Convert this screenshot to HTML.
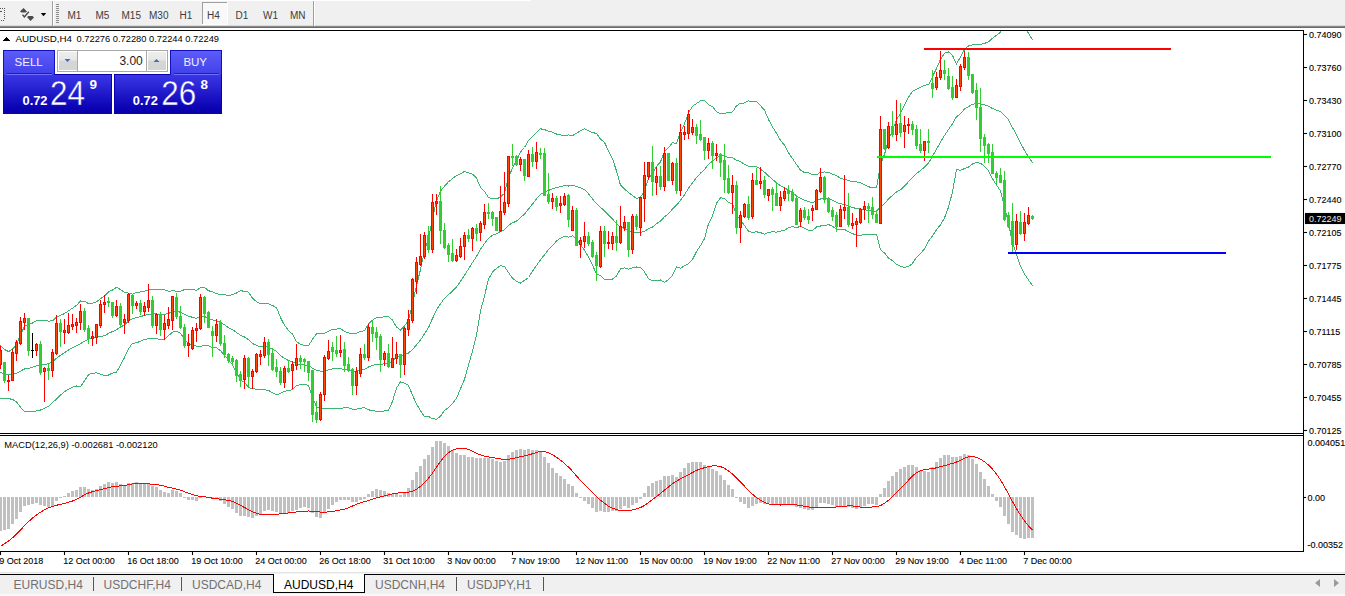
<!DOCTYPE html>
<html><head><meta charset="utf-8"><style>
html,body{margin:0;padding:0;width:1345px;height:596px;overflow:hidden;background:#fff;font-family:"Liberation Sans", sans-serif;}
.abs{position:absolute;}
#tb{left:0;top:0;width:1345px;height:26px;background:#f0f0f0;}
#tbline{left:0;top:25px;width:1345px;height:3px;background:linear-gradient(#c8c8c8,#6a6a6a 50%,#a8a8a8);}
.tf{position:absolute;top:8px;font-size:10px;color:#333;line-height:14px;}
#tabs{left:0;top:574px;width:1345px;height:22px;background:#f0f0f0;}
.tab{position:absolute;top:577px;font-size:12px;color:#707070;line-height:15px;}
.sep{position:absolute;top:577px;width:1px;height:15px;background:#555;}
</style></head><body>
<div id="tb" class="abs"></div>
<div class="abs" style="left:0;top:0;width:531px;height:1px;background:#fff"></div>
<div class="abs" style="left:0;top:25px;width:1345px;height:1px;background:#d8d8d8"></div>
<div class="abs" style="left:0;top:26px;width:1345px;height:1px;background:#8a8a8a"></div>
<div class="abs" style="left:0;top:27px;width:1345px;height:1px;background:#6a6a6a"></div>
<svg class="abs" style="left:0;top:0" width="320" height="26" shape-rendering="crispEdges">
<g fill="#555">
<rect x="0" y="8" width="1" height="1"/><rect x="2" y="8" width="1" height="1"/><rect x="4" y="8" width="1" height="1"/>
<rect x="4" y="10" width="1" height="1"/><rect x="4" y="12" width="1" height="1"/><rect x="4" y="14" width="1" height="1"/><rect x="4" y="16" width="1" height="1"/><rect x="4" y="18" width="1" height="1"/>
<rect x="1" y="20" width="1" height="1"/><rect x="3" y="20" width="1" height="1"/>
<rect x="0" y="11" width="2" height="1"/>
</g>
<g fill="#4a4a4a" shape-rendering="auto">
<path d="M20,11.5 L23.5,8 L27,11.5 L25.5,12.5 L21.5,12.5 Z"/>
<path d="M27,17 L28.5,16 L32.5,16 L34,17.5 L30.5,21 Z"/>
<path d="M22,15.3 L23,14.3 L24.4,15.8 L28.3,11.3 L29.3,12.3 L24.4,18 Z"/>
</g>
<path d="M40.8,13 L46.2,13 L43.5,16.2 Z" fill="#000" shape-rendering="auto"/>
<rect x="52" y="1" width="1" height="25" fill="#a0a0a0"/>
<rect x="53" y="1" width="1" height="25" fill="#ffffff"/>
<g fill="#8c8c8c">
<rect x="56" y="4" width="3" height="1"/><rect x="56" y="6" width="3" height="1"/><rect x="56" y="8" width="3" height="1"/><rect x="56" y="10" width="3" height="1"/><rect x="56" y="12" width="3" height="1"/><rect x="56" y="14" width="3" height="1"/><rect x="56" y="16" width="3" height="1"/><rect x="56" y="18" width="3" height="1"/><rect x="56" y="20" width="3" height="1"/><rect x="56" y="22" width="3" height="1"/>
</g>
<rect x="202" y="2" width="25" height="22" fill="#f9f9f9"/>
<rect x="202" y="2" width="25" height="1" fill="#a0a0a0"/>
<rect x="202" y="2" width="1" height="22" fill="#a0a0a0"/>
<rect x="202" y="24" width="26" height="1" fill="#ffffff"/>
<rect x="227" y="2" width="1" height="23" fill="#ffffff"/>
<rect x="313" y="1" width="1" height="25" fill="#a0a0a0"/>
<rect x="314" y="1" width="1" height="25" fill="#ffffff"/>
<g font-family='"Liberation Sans", sans-serif' font-size="10" fill="#3c3c3c" shape-rendering="auto">
<text x="67.5" y="18.5">M1</text>
<text x="95.5" y="18.5">M5</text>
<text x="121.5" y="18.5">M15</text>
<text x="149" y="18.5">M30</text>
<text x="179.5" y="18.5">H1</text>
<text x="207" y="18.5">H4</text>
<text x="235.5" y="18.5">D1</text>
<text x="263" y="18.5">W1</text>
<text x="290" y="18.5">MN</text>
</g>
</svg>

<svg width="1345" height="596" style="position:absolute;left:0;top:0" shape-rendering="crispEdges" font-family='"Liberation Sans", sans-serif' font-size="9">
<rect x="0" y="30" width="1304" height="1" fill="#000"/>
<rect x="1303" y="30" width="1" height="406" fill="#000"/>
<rect x="0" y="433" width="1304" height="1" fill="#000"/>
<rect x="0" y="435" width="1304" height="1" fill="#000"/>
<rect x="1303" y="435" width="1" height="117" fill="#000"/>
<rect x="0" y="551" width="1304" height="1" fill="#000"/>
<defs><clipPath id="cp"><rect x="0" y="31" width="1303" height="402"/></clipPath><clipPath id="cm"><rect x="0" y="436" width="1303" height="115"/></clipPath></defs>
<g clip-path="url(#cp)"><polyline points="0.5,345.5 4.5,349.5 8.5,351.5 12.5,349.3 16.5,344.5 20.5,334.8 24.5,326.2 28.5,324.8 32.5,323.1 36.5,320.7 40.5,320.7 44.5,320.7 48.5,321.1 52.5,320.9 56.5,317.1 60.5,315.3 64.5,313.6 68.5,310.8 72.5,308.2 76.5,305.4 80.5,300.9 84.5,301.4 88.5,303.5 92.5,303.3 96.5,301.9 100.5,298.8 104.5,296.0 108.5,291.8 112.5,290.1 116.5,287.3 120.5,289.6 124.5,292.2 128.5,293.2 132.5,294.1 136.5,292.3 140.5,292.0 144.5,291.3 148.5,289.7 152.5,289.6 156.5,289.5 160.5,289.5 164.5,289.8 168.5,291.3 172.5,290.8 176.5,291.2 180.5,291.3 184.5,289.6 188.5,289.2 192.5,289.3 196.5,290.4 200.5,287.7 204.5,287.4 208.5,290.7 212.5,291.9 216.5,293.9 220.5,294.2 224.5,294.3 228.5,295.8 232.5,294.4 236.5,293.0 240.5,290.5 244.5,291.5 248.5,292.1 252.5,298.2 256.5,301.6 260.5,303.6 264.5,303.4 268.5,303.9 272.5,305.5 276.5,307.6 280.5,317.6 284.5,325.3 288.5,330.4 292.5,334.1 296.5,341.6 300.5,344.5 304.5,345.4 308.5,345.8 312.5,339.3 316.5,333.9 320.5,333.3 324.5,333.2 328.5,331.1 332.5,329.3 336.5,329.1 340.5,328.6 344.5,331.5 348.5,333.0 352.5,333.2 356.5,333.2 360.5,331.5 364.5,330.6 368.5,324.2 372.5,320.2 376.5,317.6 380.5,317.4 384.5,316.8 388.5,316.6 392.5,320.1 396.5,326.9 400.5,330.2 404.5,326.0 408.5,320.5 412.5,303.8 416.5,285.6 420.5,269.5 424.5,250.7 428.5,238.7 432.5,218.3 436.5,200.7 440.5,191.3 444.5,186.1 448.5,181.7 452.5,178.6 456.5,175.6 460.5,173.8 464.5,171.5 468.5,172.8 472.5,174.2 476.5,178.1 480.5,187.5 484.5,191.4 488.5,197.7 492.5,198.5 496.5,199.0 500.5,197.1 504.5,193.3 508.5,177.8 512.5,167.8 516.5,161.1 520.5,152.0 524.5,147.5 528.5,140.4 532.5,136.8 536.5,132.4 540.5,128.8 544.5,129.6 548.5,131.3 552.5,132.2 556.5,134.0 560.5,135.0 564.5,135.4 568.5,135.0 572.5,135.5 576.5,133.3 580.5,130.6 584.5,128.8 588.5,130.8 592.5,132.5 596.5,133.5 600.5,139.2 604.5,142.5 608.5,150.7 612.5,158.8 616.5,171.0 620.5,185.2 624.5,189.0 628.5,192.4 632.5,195.6 636.5,198.4 640.5,197.1 644.5,191.0 648.5,178.4 652.5,173.4 656.5,166.3 660.5,161.9 664.5,151.4 668.5,147.6 672.5,142.6 676.5,143.6 680.5,132.3 684.5,123.8 688.5,112.8 692.5,106.3 696.5,103.5 700.5,100.9 704.5,100.3 708.5,104.7 712.5,106.6 716.5,111.9 720.5,113.8 724.5,113.6 728.5,112.3 732.5,112.0 736.5,105.8 740.5,103.1 744.5,103.0 748.5,100.9 752.5,101.5 756.5,101.5 760.5,105.6 764.5,110.2 768.5,119.5 772.5,126.9 776.5,133.4 780.5,140.2 784.5,145.2 788.5,152.8 792.5,158.5 796.5,164.4 800.5,170.3 804.5,172.5 808.5,172.9 812.5,174.9 816.5,175.0 820.5,172.1 824.5,172.0 828.5,172.4 832.5,174.4 836.5,175.4 840.5,178.4 844.5,179.3 848.5,180.6 852.5,181.6 856.5,181.8 860.5,182.9 864.5,184.8 868.5,186.7 872.5,187.9 876.5,187.9 880.5,164.5 884.5,154.3 888.5,140.0 892.5,130.1 896.5,119.8 900.5,113.2 904.5,104.8 908.5,97.1 912.5,91.4 916.5,89.3 920.5,87.5 924.5,85.1 928.5,84.8 932.5,76.7 936.5,68.4 940.5,59.5 944.5,53.1 948.5,51.9 952.5,55.5 956.5,64.1 960.5,56.8 964.5,49.6 968.5,45.9 972.5,44.9 976.5,44.8 980.5,44.4 984.5,43.4 988.5,41.8 992.5,38.2 996.5,35.2 1000.5,32.3 1004.5,24.0 1008.5,16.7 1012.5,12.3 1016.5,15.0 1020.5,19.6 1024.5,26.8 1028.5,33.4 1032.5,39.8" fill="none" stroke="#3cb371" stroke-width="1"/><polyline points="0.5,372.3 4.5,373.9 8.5,375.0 12.5,374.4 16.5,373.1 20.5,371.1 24.5,369.0 28.5,368.3 32.5,367.3 36.5,365.8 40.5,365.3 44.5,364.5 48.5,363.6 52.5,361.7 56.5,358.2 60.5,355.3 64.5,352.6 68.5,350.0 72.5,347.7 76.5,345.7 80.5,343.7 84.5,341.2 88.5,339.1 92.5,338.3 96.5,337.4 100.5,336.5 104.5,335.8 108.5,333.4 112.5,331.6 116.5,329.7 120.5,327.3 124.5,324.9 128.5,321.0 132.5,318.7 136.5,317.6 140.5,316.6 144.5,315.4 148.5,314.2 152.5,314.2 156.5,313.8 160.5,314.7 164.5,314.4 168.5,313.5 172.5,311.5 176.5,311.1 180.5,312.3 184.5,314.4 188.5,316.4 192.5,317.2 196.5,318.3 200.5,316.9 204.5,316.6 208.5,318.3 212.5,319.8 216.5,320.8 220.5,322.4 224.5,324.8 228.5,327.8 232.5,329.6 236.5,332.6 240.5,335.2 244.5,336.9 248.5,339.8 252.5,343.5 256.5,345.4 260.5,346.7 264.5,346.6 268.5,347.1 272.5,349.1 276.5,351.3 280.5,355.5 284.5,358.3 288.5,360.5 292.5,362.0 296.5,363.7 300.5,364.6 304.5,364.9 308.5,365.5 312.5,368.2 316.5,370.4 320.5,371.1 324.5,371.0 328.5,369.8 332.5,368.8 336.5,368.7 340.5,368.5 344.5,369.6 348.5,370.4 352.5,371.2 356.5,371.2 360.5,369.8 364.5,369.2 368.5,367.0 372.5,365.4 376.5,364.4 380.5,364.3 384.5,363.9 388.5,363.6 392.5,360.8 396.5,357.5 400.5,356.1 404.5,354.6 408.5,353.0 412.5,349.4 416.5,344.9 420.5,340.1 424.5,333.7 428.5,327.6 432.5,318.5 436.5,310.0 440.5,303.8 444.5,298.3 448.5,294.7 452.5,291.0 456.5,286.9 460.5,281.3 464.5,275.4 468.5,269.0 472.5,262.5 476.5,256.5 480.5,249.4 484.5,243.6 488.5,238.3 492.5,235.3 496.5,233.7 500.5,231.5 504.5,229.8 508.5,225.2 512.5,222.9 516.5,221.1 520.5,217.6 524.5,214.0 528.5,209.0 532.5,204.0 536.5,198.9 540.5,194.2 544.5,192.3 548.5,190.4 552.5,188.9 556.5,187.6 560.5,186.5 564.5,185.7 568.5,186.0 572.5,185.6 576.5,186.3 580.5,187.8 584.5,189.5 588.5,193.8 592.5,198.8 596.5,203.8 600.5,207.4 604.5,210.8 608.5,215.2 612.5,219.0 616.5,223.5 620.5,227.1 624.5,228.4 628.5,230.8 632.5,231.7 636.5,232.7 640.5,232.4 644.5,231.4 648.5,228.6 652.5,227.1 656.5,223.7 660.5,220.9 664.5,216.8 668.5,213.6 672.5,209.0 676.5,205.2 680.5,200.3 684.5,194.7 688.5,188.3 692.5,182.9 696.5,177.5 700.5,173.2 704.5,169.6 708.5,164.3 712.5,161.2 716.5,157.6 720.5,155.8 724.5,156.0 728.5,157.5 732.5,157.7 736.5,160.2 740.5,161.7 744.5,164.2 748.5,166.1 752.5,167.0 756.5,166.6 760.5,169.1 764.5,172.2 768.5,175.9 772.5,179.3 776.5,182.8 780.5,185.7 784.5,187.7 788.5,190.2 792.5,192.5 796.5,196.0 800.5,198.4 804.5,200.3 808.5,201.6 812.5,202.8 816.5,200.9 820.5,199.0 824.5,198.8 828.5,198.5 832.5,200.3 836.5,202.4 840.5,203.8 844.5,204.4 848.5,206.2 852.5,207.6 856.5,208.4 860.5,209.0 864.5,209.8 868.5,210.5 872.5,211.2 876.5,211.2 880.5,207.1 884.5,203.7 888.5,199.0 892.5,195.3 896.5,192.0 900.5,189.8 904.5,186.1 908.5,181.7 912.5,177.4 916.5,173.4 920.5,170.4 924.5,167.1 928.5,163.0 932.5,156.3 936.5,149.1 940.5,142.1 944.5,135.5 948.5,129.5 952.5,123.7 956.5,116.8 960.5,113.6 964.5,109.1 968.5,106.5 972.5,104.4 976.5,103.6 980.5,103.9 984.5,104.8 988.5,106.3 992.5,108.5 996.5,110.1 1000.5,111.7 1004.5,115.6 1008.5,119.8 1012.5,127.6 1016.5,134.8 1020.5,142.9 1024.5,150.4 1028.5,156.7 1032.5,162.8" fill="none" stroke="#3cb371" stroke-width="1"/><polyline points="0.5,399.0 4.5,398.3 8.5,398.5 12.5,399.5 16.5,401.7 20.5,407.3 24.5,411.8 28.5,411.8 32.5,411.5 36.5,410.9 40.5,410.0 44.5,408.3 48.5,406.2 52.5,402.5 56.5,399.2 60.5,395.2 64.5,391.6 68.5,389.2 72.5,387.3 76.5,386.0 80.5,386.6 84.5,380.9 88.5,374.6 92.5,373.3 96.5,372.8 100.5,374.2 104.5,375.5 108.5,375.0 112.5,373.1 116.5,372.2 120.5,365.0 124.5,357.5 128.5,348.8 132.5,343.2 136.5,342.9 140.5,341.2 144.5,339.5 148.5,338.7 152.5,338.9 156.5,338.2 160.5,339.9 164.5,339.1 168.5,335.7 172.5,332.2 176.5,331.1 180.5,333.2 184.5,339.2 188.5,343.7 192.5,345.1 196.5,346.2 200.5,346.1 204.5,345.8 208.5,345.9 212.5,347.7 216.5,347.8 220.5,350.7 224.5,355.3 228.5,359.8 232.5,364.8 236.5,372.3 240.5,379.8 244.5,382.4 248.5,387.5 252.5,388.8 256.5,389.2 260.5,389.9 264.5,389.8 268.5,390.4 272.5,392.7 276.5,394.9 280.5,393.5 284.5,391.2 288.5,390.6 292.5,389.8 296.5,385.7 300.5,384.6 304.5,384.5 308.5,385.2 312.5,397.1 316.5,406.9 320.5,408.8 324.5,408.8 328.5,408.5 332.5,408.2 336.5,408.3 340.5,408.4 344.5,407.8 348.5,407.9 352.5,409.2 356.5,409.2 360.5,408.1 364.5,407.9 368.5,409.8 372.5,410.7 376.5,411.2 380.5,411.1 384.5,411.0 388.5,410.5 392.5,401.5 396.5,388.1 400.5,381.9 404.5,383.2 408.5,385.5 412.5,395.0 416.5,404.1 420.5,410.8 424.5,416.7 428.5,416.5 432.5,418.7 436.5,419.3 440.5,416.3 444.5,410.5 448.5,407.6 452.5,403.5 456.5,398.3 460.5,388.8 464.5,379.3 468.5,365.2 472.5,350.9 476.5,334.8 480.5,311.3 484.5,295.9 488.5,279.0 492.5,272.1 496.5,268.3 500.5,265.8 504.5,266.3 508.5,272.6 512.5,278.1 516.5,281.2 520.5,283.1 524.5,280.4 528.5,277.5 532.5,271.3 536.5,265.4 540.5,259.7 544.5,254.9 548.5,249.6 552.5,245.7 556.5,241.1 560.5,238.1 564.5,236.1 568.5,237.1 572.5,235.8 576.5,239.4 580.5,245.0 584.5,250.2 588.5,256.9 592.5,265.1 596.5,274.1 600.5,275.6 604.5,279.2 608.5,279.7 612.5,279.1 616.5,276.0 620.5,268.9 624.5,267.8 628.5,269.2 632.5,267.8 636.5,267.0 640.5,267.7 644.5,271.8 648.5,278.7 652.5,280.8 656.5,281.0 660.5,280.0 664.5,282.2 668.5,279.7 672.5,275.4 676.5,266.9 680.5,268.3 684.5,265.7 688.5,263.8 692.5,259.4 696.5,251.6 700.5,245.5 704.5,238.8 708.5,223.8 712.5,215.8 716.5,203.3 720.5,197.8 724.5,198.4 728.5,202.7 732.5,203.4 736.5,214.7 740.5,220.3 744.5,225.5 748.5,231.3 752.5,232.5 756.5,231.8 760.5,232.6 764.5,234.2 768.5,232.4 772.5,231.7 776.5,232.2 780.5,231.2 784.5,230.3 788.5,227.6 792.5,226.5 796.5,227.6 800.5,226.4 804.5,228.1 808.5,230.4 812.5,230.7 816.5,226.9 820.5,226.0 824.5,225.6 828.5,224.6 832.5,226.2 836.5,229.4 840.5,229.2 844.5,229.5 848.5,231.7 852.5,233.6 856.5,235.1 860.5,235.2 864.5,234.7 868.5,234.3 872.5,234.6 876.5,234.4 880.5,249.7 884.5,253.0 888.5,258.1 892.5,260.6 896.5,264.2 900.5,266.3 904.5,267.4 908.5,266.4 912.5,263.4 916.5,257.4 920.5,253.3 924.5,249.1 928.5,241.3 932.5,235.8 936.5,229.7 940.5,224.8 944.5,217.8 948.5,207.1 952.5,191.8 956.5,169.5 960.5,170.4 964.5,168.5 968.5,167.1 972.5,163.9 976.5,162.4 980.5,163.3 984.5,166.3 988.5,170.8 992.5,178.8 996.5,185.0 1000.5,191.1 1004.5,207.1 1008.5,222.9 1012.5,242.9 1016.5,254.6 1020.5,266.2 1024.5,274.0 1028.5,280.0 1032.5,285.8" fill="none" stroke="#3cb371" stroke-width="1"/><rect x="0" y="346" width="1" height="23" fill="#ff0000"/><rect x="-1" y="350" width="3" height="15" fill="#ff0000"/><rect x="0" y="351" width="1" height="13" fill="#ff4500"/><rect x="4" y="362" width="1" height="21" fill="#32cd32"/><rect x="3" y="362" width="3" height="19" fill="#32cd32"/><rect x="8" y="375" width="1" height="16" fill="#ff0000"/><rect x="7" y="380" width="3" height="2" fill="#ff0000"/><rect x="12" y="349" width="1" height="32" fill="#ff0000"/><rect x="11" y="352" width="3" height="29" fill="#ff0000"/><rect x="12" y="353" width="1" height="27" fill="#ff4500"/><rect x="16" y="340" width="1" height="21" fill="#ff0000"/><rect x="15" y="342" width="3" height="12" fill="#ff0000"/><rect x="16" y="343" width="1" height="10" fill="#ff4500"/><rect x="20" y="317" width="1" height="28" fill="#ff0000"/><rect x="19" y="321" width="3" height="23" fill="#ff0000"/><rect x="20" y="322" width="1" height="21" fill="#ff4500"/><rect x="24" y="313" width="1" height="17" fill="#ff0000"/><rect x="23" y="318" width="3" height="5" fill="#ff0000"/><rect x="24" y="319" width="1" height="3" fill="#ff4500"/><rect x="28" y="318" width="1" height="38" fill="#32cd32"/><rect x="27" y="318" width="3" height="33" fill="#32cd32"/><rect x="32" y="333" width="1" height="25" fill="#000000"/><rect x="31" y="350" width="3" height="1" fill="#000000"/><rect x="36" y="343" width="1" height="13" fill="#ff0000"/><rect x="35" y="344" width="3" height="7" fill="#ff0000"/><rect x="36" y="345" width="1" height="5" fill="#ff4500"/><rect x="40" y="341" width="1" height="34" fill="#32cd32"/><rect x="39" y="344" width="3" height="29" fill="#32cd32"/><rect x="44" y="367" width="1" height="35" fill="#ff0000"/><rect x="43" y="368" width="3" height="4" fill="#ff0000"/><rect x="44" y="369" width="1" height="2" fill="#ff4500"/><rect x="48" y="363" width="1" height="17" fill="#32cd32"/><rect x="47" y="368" width="3" height="3" fill="#32cd32"/><rect x="52" y="349" width="1" height="28" fill="#ff0000"/><rect x="51" y="352" width="3" height="19" fill="#ff0000"/><rect x="52" y="353" width="1" height="17" fill="#ff4500"/><rect x="56" y="315" width="1" height="40" fill="#ff0000"/><rect x="55" y="323" width="3" height="31" fill="#ff0000"/><rect x="56" y="324" width="1" height="29" fill="#ff4500"/><rect x="60" y="319" width="1" height="28" fill="#32cd32"/><rect x="59" y="323" width="3" height="9" fill="#32cd32"/><rect x="64" y="319" width="1" height="25" fill="#ff0000"/><rect x="63" y="330" width="3" height="3" fill="#ff0000"/><rect x="64" y="331" width="1" height="1" fill="#ff4500"/><rect x="68" y="313" width="1" height="21" fill="#ff0000"/><rect x="67" y="325" width="3" height="8" fill="#ff0000"/><rect x="68" y="326" width="1" height="6" fill="#ff4500"/><rect x="72" y="314" width="1" height="16" fill="#ff0000"/><rect x="71" y="324" width="3" height="3" fill="#ff0000"/><rect x="72" y="325" width="1" height="1" fill="#ff4500"/><rect x="76" y="318" width="1" height="15" fill="#ff0000"/><rect x="75" y="322" width="3" height="4" fill="#ff0000"/><rect x="76" y="323" width="1" height="2" fill="#ff4500"/><rect x="80" y="304" width="1" height="26" fill="#ff0000"/><rect x="79" y="311" width="3" height="12" fill="#ff0000"/><rect x="80" y="312" width="1" height="10" fill="#ff4500"/><rect x="84" y="308" width="1" height="24" fill="#32cd32"/><rect x="83" y="311" width="3" height="19" fill="#32cd32"/><rect x="88" y="325" width="1" height="19" fill="#32cd32"/><rect x="87" y="328" width="3" height="11" fill="#32cd32"/><rect x="92" y="331" width="1" height="15" fill="#ff0000"/><rect x="91" y="336" width="3" height="3" fill="#ff0000"/><rect x="92" y="337" width="1" height="1" fill="#ff4500"/><rect x="96" y="324" width="1" height="20" fill="#ff0000"/><rect x="95" y="324" width="3" height="14" fill="#ff0000"/><rect x="96" y="325" width="1" height="12" fill="#ff4500"/><rect x="100" y="300" width="1" height="28" fill="#ff0000"/><rect x="99" y="304" width="3" height="22" fill="#ff0000"/><rect x="100" y="305" width="1" height="20" fill="#ff4500"/><rect x="104" y="295" width="1" height="18" fill="#ff0000"/><rect x="103" y="302" width="3" height="3" fill="#ff0000"/><rect x="104" y="303" width="1" height="1" fill="#ff4500"/><rect x="108" y="297" width="1" height="10" fill="#32cd32"/><rect x="107" y="301" width="3" height="2" fill="#32cd32"/><rect x="112" y="302" width="1" height="16" fill="#32cd32"/><rect x="111" y="302" width="3" height="14" fill="#32cd32"/><rect x="116" y="300" width="1" height="17" fill="#ff0000"/><rect x="115" y="306" width="3" height="10" fill="#ff0000"/><rect x="116" y="307" width="1" height="8" fill="#ff4500"/><rect x="120" y="303" width="1" height="24" fill="#32cd32"/><rect x="119" y="306" width="3" height="19" fill="#32cd32"/><rect x="124" y="314" width="1" height="20" fill="#ff0000"/><rect x="123" y="319" width="3" height="4" fill="#ff0000"/><rect x="124" y="320" width="1" height="2" fill="#ff4500"/><rect x="128" y="293" width="1" height="30" fill="#ff0000"/><rect x="127" y="294" width="3" height="27" fill="#ff0000"/><rect x="128" y="295" width="1" height="25" fill="#ff4500"/><rect x="132" y="294" width="1" height="20" fill="#32cd32"/><rect x="131" y="295" width="3" height="11" fill="#32cd32"/><rect x="136" y="301" width="1" height="8" fill="#ff0000"/><rect x="135" y="303" width="3" height="3" fill="#ff0000"/><rect x="136" y="304" width="1" height="1" fill="#ff4500"/><rect x="140" y="300" width="1" height="15" fill="#32cd32"/><rect x="139" y="303" width="3" height="9" fill="#32cd32"/><rect x="144" y="302" width="1" height="14" fill="#ff0000"/><rect x="143" y="306" width="3" height="6" fill="#ff0000"/><rect x="144" y="307" width="1" height="4" fill="#ff4500"/><rect x="148" y="284" width="1" height="28" fill="#ff0000"/><rect x="147" y="300" width="3" height="8" fill="#ff0000"/><rect x="148" y="301" width="1" height="6" fill="#ff4500"/><rect x="152" y="296" width="1" height="32" fill="#32cd32"/><rect x="151" y="300" width="3" height="26" fill="#32cd32"/><rect x="156" y="313" width="1" height="21" fill="#ff0000"/><rect x="155" y="314" width="3" height="12" fill="#ff0000"/><rect x="156" y="315" width="1" height="10" fill="#ff4500"/><rect x="160" y="312" width="1" height="24" fill="#32cd32"/><rect x="159" y="314" width="3" height="16" fill="#32cd32"/><rect x="164" y="315" width="1" height="25" fill="#ff0000"/><rect x="163" y="323" width="3" height="7" fill="#ff0000"/><rect x="164" y="324" width="1" height="5" fill="#ff4500"/><rect x="168" y="307" width="1" height="22" fill="#ff0000"/><rect x="167" y="319" width="3" height="7" fill="#ff0000"/><rect x="168" y="320" width="1" height="5" fill="#ff4500"/><rect x="172" y="296" width="1" height="34" fill="#ff0000"/><rect x="171" y="296" width="3" height="25" fill="#ff0000"/><rect x="172" y="297" width="1" height="23" fill="#ff4500"/><rect x="176" y="293" width="1" height="26" fill="#32cd32"/><rect x="175" y="297" width="3" height="20" fill="#32cd32"/><rect x="180" y="306" width="1" height="23" fill="#32cd32"/><rect x="179" y="316" width="3" height="12" fill="#32cd32"/><rect x="184" y="324" width="1" height="24" fill="#32cd32"/><rect x="183" y="327" width="3" height="19" fill="#32cd32"/><rect x="188" y="334" width="1" height="23" fill="#ff0000"/><rect x="187" y="343" width="3" height="3" fill="#ff0000"/><rect x="188" y="344" width="1" height="1" fill="#ff4500"/><rect x="192" y="327" width="1" height="23" fill="#ff0000"/><rect x="191" y="330" width="3" height="19" fill="#ff0000"/><rect x="192" y="331" width="1" height="17" fill="#ff4500"/><rect x="196" y="323" width="1" height="19" fill="#ff0000"/><rect x="195" y="328" width="3" height="3" fill="#ff0000"/><rect x="196" y="329" width="1" height="1" fill="#ff4500"/><rect x="200" y="294" width="1" height="36" fill="#ff0000"/><rect x="199" y="297" width="3" height="32" fill="#ff0000"/><rect x="200" y="298" width="1" height="30" fill="#ff4500"/><rect x="204" y="296" width="1" height="27" fill="#32cd32"/><rect x="203" y="297" width="3" height="17" fill="#32cd32"/><rect x="208" y="311" width="1" height="17" fill="#32cd32"/><rect x="207" y="312" width="3" height="16" fill="#32cd32"/><rect x="212" y="326" width="1" height="31" fill="#32cd32"/><rect x="211" y="331" width="3" height="5" fill="#32cd32"/><rect x="216" y="319" width="1" height="23" fill="#ff0000"/><rect x="215" y="324" width="3" height="12" fill="#ff0000"/><rect x="216" y="325" width="1" height="10" fill="#ff4500"/><rect x="220" y="320" width="1" height="26" fill="#32cd32"/><rect x="219" y="323" width="3" height="21" fill="#32cd32"/><rect x="224" y="335" width="1" height="23" fill="#32cd32"/><rect x="223" y="343" width="3" height="12" fill="#32cd32"/><rect x="228" y="353" width="1" height="10" fill="#32cd32"/><rect x="227" y="354" width="3" height="7" fill="#32cd32"/><rect x="232" y="356" width="1" height="10" fill="#32cd32"/><rect x="231" y="358" width="3" height="4" fill="#32cd32"/><rect x="236" y="359" width="1" height="23" fill="#32cd32"/><rect x="235" y="360" width="3" height="16" fill="#32cd32"/><rect x="240" y="371" width="1" height="16" fill="#32cd32"/><rect x="239" y="374" width="3" height="7" fill="#32cd32"/><rect x="244" y="355" width="1" height="34" fill="#ff0000"/><rect x="243" y="358" width="3" height="22" fill="#ff0000"/><rect x="244" y="359" width="1" height="20" fill="#ff4500"/><rect x="248" y="357" width="1" height="30" fill="#32cd32"/><rect x="247" y="358" width="3" height="19" fill="#32cd32"/><rect x="252" y="369" width="1" height="20" fill="#ff0000"/><rect x="251" y="371" width="3" height="6" fill="#ff0000"/><rect x="252" y="372" width="1" height="4" fill="#ff4500"/><rect x="256" y="353" width="1" height="20" fill="#ff0000"/><rect x="255" y="354" width="3" height="18" fill="#ff0000"/><rect x="256" y="355" width="1" height="16" fill="#ff4500"/><rect x="260" y="350" width="1" height="15" fill="#ff0000"/><rect x="259" y="354" width="3" height="3" fill="#ff0000"/><rect x="260" y="355" width="1" height="1" fill="#ff4500"/><rect x="264" y="337" width="1" height="21" fill="#ff0000"/><rect x="263" y="342" width="3" height="14" fill="#ff0000"/><rect x="264" y="343" width="1" height="12" fill="#ff4500"/><rect x="268" y="339" width="1" height="27" fill="#32cd32"/><rect x="267" y="342" width="3" height="13" fill="#32cd32"/><rect x="272" y="348" width="1" height="23" fill="#32cd32"/><rect x="271" y="353" width="3" height="17" fill="#32cd32"/><rect x="276" y="359" width="1" height="18" fill="#32cd32"/><rect x="275" y="367" width="3" height="5" fill="#32cd32"/><rect x="280" y="367" width="1" height="18" fill="#32cd32"/><rect x="279" y="371" width="3" height="12" fill="#32cd32"/><rect x="284" y="366" width="1" height="22" fill="#ff0000"/><rect x="283" y="368" width="3" height="15" fill="#ff0000"/><rect x="284" y="369" width="1" height="13" fill="#ff4500"/><rect x="288" y="360" width="1" height="13" fill="#32cd32"/><rect x="287" y="368" width="3" height="4" fill="#32cd32"/><rect x="292" y="361" width="1" height="28" fill="#ff0000"/><rect x="291" y="364" width="3" height="7" fill="#ff0000"/><rect x="292" y="365" width="1" height="5" fill="#ff4500"/><rect x="296" y="344" width="1" height="26" fill="#ff0000"/><rect x="295" y="358" width="3" height="8" fill="#ff0000"/><rect x="296" y="359" width="1" height="6" fill="#ff4500"/><rect x="300" y="355" width="1" height="14" fill="#32cd32"/><rect x="299" y="358" width="3" height="4" fill="#32cd32"/><rect x="304" y="358" width="1" height="14" fill="#32cd32"/><rect x="303" y="359" width="3" height="3" fill="#32cd32"/><rect x="308" y="361" width="1" height="20" fill="#32cd32"/><rect x="307" y="361" width="3" height="12" fill="#32cd32"/><rect x="312" y="370" width="1" height="52" fill="#32cd32"/><rect x="311" y="370" width="3" height="45" fill="#32cd32"/><rect x="316" y="401" width="1" height="22" fill="#32cd32"/><rect x="315" y="412" width="3" height="8" fill="#32cd32"/><rect x="320" y="392" width="1" height="29" fill="#ff0000"/><rect x="319" y="394" width="3" height="26" fill="#ff0000"/><rect x="320" y="395" width="1" height="24" fill="#ff4500"/><rect x="324" y="355" width="1" height="46" fill="#ff0000"/><rect x="323" y="357" width="3" height="38" fill="#ff0000"/><rect x="324" y="358" width="1" height="36" fill="#ff4500"/><rect x="328" y="340" width="1" height="20" fill="#ff0000"/><rect x="327" y="351" width="3" height="8" fill="#ff0000"/><rect x="328" y="352" width="1" height="6" fill="#ff4500"/><rect x="332" y="342" width="1" height="19" fill="#32cd32"/><rect x="331" y="347" width="3" height="5" fill="#32cd32"/><rect x="336" y="336" width="1" height="21" fill="#32cd32"/><rect x="335" y="350" width="3" height="4" fill="#32cd32"/><rect x="340" y="335" width="1" height="22" fill="#ff0000"/><rect x="339" y="350" width="3" height="3" fill="#ff0000"/><rect x="340" y="351" width="1" height="1" fill="#ff4500"/><rect x="344" y="342" width="1" height="30" fill="#32cd32"/><rect x="343" y="349" width="3" height="17" fill="#32cd32"/><rect x="348" y="357" width="1" height="15" fill="#32cd32"/><rect x="347" y="364" width="3" height="7" fill="#32cd32"/><rect x="352" y="368" width="1" height="27" fill="#32cd32"/><rect x="351" y="369" width="3" height="17" fill="#32cd32"/><rect x="356" y="367" width="1" height="28" fill="#ff0000"/><rect x="355" y="371" width="3" height="15" fill="#ff0000"/><rect x="356" y="372" width="1" height="13" fill="#ff4500"/><rect x="360" y="348" width="1" height="29" fill="#ff0000"/><rect x="359" y="354" width="3" height="20" fill="#ff0000"/><rect x="360" y="355" width="1" height="18" fill="#ff4500"/><rect x="364" y="344" width="1" height="16" fill="#32cd32"/><rect x="363" y="354" width="3" height="4" fill="#32cd32"/><rect x="368" y="324" width="1" height="37" fill="#ff0000"/><rect x="367" y="327" width="3" height="31" fill="#ff0000"/><rect x="368" y="328" width="1" height="29" fill="#ff4500"/><rect x="372" y="321" width="1" height="21" fill="#32cd32"/><rect x="371" y="327" width="3" height="7" fill="#32cd32"/><rect x="376" y="327" width="1" height="23" fill="#32cd32"/><rect x="375" y="332" width="3" height="6" fill="#32cd32"/><rect x="380" y="334" width="1" height="38" fill="#32cd32"/><rect x="379" y="336" width="3" height="24" fill="#32cd32"/><rect x="384" y="351" width="1" height="15" fill="#ff0000"/><rect x="383" y="353" width="3" height="7" fill="#ff0000"/><rect x="384" y="354" width="1" height="5" fill="#ff4500"/><rect x="388" y="344" width="1" height="24" fill="#32cd32"/><rect x="387" y="353" width="3" height="14" fill="#32cd32"/><rect x="392" y="337" width="1" height="31" fill="#ff0000"/><rect x="391" y="358" width="3" height="10" fill="#ff0000"/><rect x="392" y="359" width="1" height="8" fill="#ff4500"/><rect x="396" y="342" width="1" height="22" fill="#ff0000"/><rect x="395" y="354" width="3" height="5" fill="#ff0000"/><rect x="396" y="355" width="1" height="3" fill="#ff4500"/><rect x="400" y="354" width="1" height="24" fill="#32cd32"/><rect x="399" y="354" width="3" height="11" fill="#32cd32"/><rect x="404" y="327" width="1" height="48" fill="#ff0000"/><rect x="403" y="328" width="3" height="37" fill="#ff0000"/><rect x="404" y="329" width="1" height="35" fill="#ff4500"/><rect x="408" y="310" width="1" height="26" fill="#ff0000"/><rect x="407" y="319" width="3" height="11" fill="#ff0000"/><rect x="408" y="320" width="1" height="9" fill="#ff4500"/><rect x="412" y="278" width="1" height="45" fill="#ff0000"/><rect x="411" y="279" width="3" height="42" fill="#ff0000"/><rect x="412" y="280" width="1" height="40" fill="#ff4500"/><rect x="416" y="257" width="1" height="37" fill="#ff0000"/><rect x="415" y="262" width="3" height="20" fill="#ff0000"/><rect x="416" y="263" width="1" height="18" fill="#ff4500"/><rect x="420" y="234" width="1" height="32" fill="#ff0000"/><rect x="419" y="256" width="3" height="9" fill="#ff0000"/><rect x="420" y="257" width="1" height="7" fill="#ff4500"/><rect x="424" y="232" width="1" height="27" fill="#ff0000"/><rect x="423" y="235" width="3" height="22" fill="#ff0000"/><rect x="424" y="236" width="1" height="20" fill="#ff4500"/><rect x="428" y="226" width="1" height="27" fill="#32cd32"/><rect x="427" y="235" width="3" height="15" fill="#32cd32"/><rect x="432" y="194" width="1" height="59" fill="#ff0000"/><rect x="431" y="202" width="3" height="48" fill="#ff0000"/><rect x="432" y="203" width="1" height="46" fill="#ff4500"/><rect x="436" y="194" width="1" height="21" fill="#ff0000"/><rect x="435" y="201" width="3" height="3" fill="#ff0000"/><rect x="436" y="202" width="1" height="1" fill="#ff4500"/><rect x="440" y="186" width="1" height="58" fill="#32cd32"/><rect x="439" y="201" width="3" height="30" fill="#32cd32"/><rect x="444" y="223" width="1" height="26" fill="#32cd32"/><rect x="443" y="230" width="3" height="18" fill="#32cd32"/><rect x="448" y="243" width="1" height="19" fill="#32cd32"/><rect x="447" y="245" width="3" height="10" fill="#32cd32"/><rect x="452" y="239" width="1" height="23" fill="#32cd32"/><rect x="451" y="253" width="3" height="8" fill="#32cd32"/><rect x="456" y="249" width="1" height="13" fill="#ff0000"/><rect x="455" y="255" width="3" height="6" fill="#ff0000"/><rect x="456" y="256" width="1" height="4" fill="#ff4500"/><rect x="460" y="238" width="1" height="20" fill="#ff0000"/><rect x="459" y="246" width="3" height="11" fill="#ff0000"/><rect x="460" y="247" width="1" height="9" fill="#ff4500"/><rect x="464" y="232" width="1" height="28" fill="#ff0000"/><rect x="463" y="235" width="3" height="12" fill="#ff0000"/><rect x="464" y="236" width="1" height="10" fill="#ff4500"/><rect x="468" y="229" width="1" height="13" fill="#32cd32"/><rect x="467" y="235" width="3" height="4" fill="#32cd32"/><rect x="472" y="227" width="1" height="24" fill="#ff0000"/><rect x="471" y="228" width="3" height="11" fill="#ff0000"/><rect x="472" y="229" width="1" height="9" fill="#ff4500"/><rect x="476" y="224" width="1" height="17" fill="#32cd32"/><rect x="475" y="228" width="3" height="6" fill="#32cd32"/><rect x="480" y="221" width="1" height="20" fill="#ff0000"/><rect x="479" y="223" width="3" height="10" fill="#ff0000"/><rect x="480" y="224" width="1" height="8" fill="#ff4500"/><rect x="484" y="204" width="1" height="25" fill="#ff0000"/><rect x="483" y="212" width="3" height="13" fill="#ff0000"/><rect x="484" y="213" width="1" height="11" fill="#ff4500"/><rect x="488" y="203" width="1" height="16" fill="#32cd32"/><rect x="487" y="212" width="3" height="2" fill="#32cd32"/><rect x="492" y="211" width="1" height="15" fill="#32cd32"/><rect x="491" y="212" width="3" height="7" fill="#32cd32"/><rect x="496" y="217" width="1" height="14" fill="#32cd32"/><rect x="495" y="217" width="3" height="14" fill="#32cd32"/><rect x="500" y="186" width="1" height="46" fill="#ff0000"/><rect x="499" y="211" width="3" height="20" fill="#ff0000"/><rect x="500" y="212" width="1" height="18" fill="#ff4500"/><rect x="504" y="172" width="1" height="43" fill="#ff0000"/><rect x="503" y="202" width="3" height="11" fill="#ff0000"/><rect x="504" y="203" width="1" height="9" fill="#ff4500"/><rect x="508" y="156" width="1" height="51" fill="#ff0000"/><rect x="507" y="156" width="3" height="48" fill="#ff0000"/><rect x="508" y="157" width="1" height="46" fill="#ff4500"/><rect x="512" y="144" width="1" height="22" fill="#32cd32"/><rect x="511" y="156" width="3" height="2" fill="#32cd32"/><rect x="516" y="155" width="1" height="11" fill="#32cd32"/><rect x="515" y="156" width="3" height="9" fill="#32cd32"/><rect x="520" y="157" width="1" height="14" fill="#ff0000"/><rect x="519" y="159" width="3" height="6" fill="#ff0000"/><rect x="520" y="160" width="1" height="4" fill="#ff4500"/><rect x="524" y="159" width="1" height="22" fill="#32cd32"/><rect x="523" y="159" width="3" height="17" fill="#32cd32"/><rect x="528" y="150" width="1" height="27" fill="#ff0000"/><rect x="527" y="154" width="3" height="23" fill="#ff0000"/><rect x="528" y="155" width="1" height="21" fill="#ff4500"/><rect x="532" y="147" width="1" height="20" fill="#32cd32"/><rect x="531" y="154" width="3" height="8" fill="#32cd32"/><rect x="536" y="142" width="1" height="27" fill="#ff0000"/><rect x="535" y="152" width="3" height="10" fill="#ff0000"/><rect x="536" y="153" width="1" height="8" fill="#ff4500"/><rect x="540" y="148" width="1" height="11" fill="#32cd32"/><rect x="539" y="153" width="3" height="2" fill="#32cd32"/><rect x="544" y="148" width="1" height="48" fill="#32cd32"/><rect x="543" y="153" width="3" height="43" fill="#32cd32"/><rect x="548" y="173" width="1" height="31" fill="#32cd32"/><rect x="547" y="194" width="3" height="8" fill="#32cd32"/><rect x="552" y="193" width="1" height="16" fill="#ff0000"/><rect x="551" y="198" width="3" height="4" fill="#ff0000"/><rect x="552" y="199" width="1" height="2" fill="#ff4500"/><rect x="556" y="196" width="1" height="15" fill="#32cd32"/><rect x="555" y="198" width="3" height="9" fill="#32cd32"/><rect x="560" y="196" width="1" height="17" fill="#ff0000"/><rect x="559" y="203" width="3" height="3" fill="#ff0000"/><rect x="560" y="204" width="1" height="1" fill="#ff4500"/><rect x="564" y="193" width="1" height="13" fill="#ff0000"/><rect x="563" y="196" width="3" height="9" fill="#ff0000"/><rect x="564" y="197" width="1" height="7" fill="#ff4500"/><rect x="568" y="194" width="1" height="33" fill="#32cd32"/><rect x="567" y="195" width="3" height="25" fill="#32cd32"/><rect x="572" y="206" width="1" height="25" fill="#ff0000"/><rect x="571" y="210" width="3" height="21" fill="#ff0000"/><rect x="572" y="211" width="1" height="19" fill="#ff4500"/><rect x="576" y="208" width="1" height="38" fill="#32cd32"/><rect x="575" y="210" width="3" height="36" fill="#32cd32"/><rect x="580" y="237" width="1" height="21" fill="#ff0000"/><rect x="579" y="240" width="3" height="5" fill="#ff0000"/><rect x="580" y="241" width="1" height="3" fill="#ff4500"/><rect x="584" y="222" width="1" height="26" fill="#ff0000"/><rect x="583" y="236" width="3" height="6" fill="#ff0000"/><rect x="584" y="237" width="1" height="4" fill="#ff4500"/><rect x="588" y="232" width="1" height="14" fill="#32cd32"/><rect x="587" y="236" width="3" height="8" fill="#32cd32"/><rect x="592" y="240" width="1" height="18" fill="#32cd32"/><rect x="591" y="242" width="3" height="15" fill="#32cd32"/><rect x="596" y="252" width="1" height="29" fill="#32cd32"/><rect x="595" y="255" width="3" height="11" fill="#32cd32"/><rect x="600" y="226" width="1" height="42" fill="#ff0000"/><rect x="599" y="231" width="3" height="36" fill="#ff0000"/><rect x="600" y="232" width="1" height="34" fill="#ff4500"/><rect x="604" y="226" width="1" height="31" fill="#32cd32"/><rect x="603" y="231" width="3" height="13" fill="#32cd32"/><rect x="608" y="231" width="1" height="18" fill="#ff0000"/><rect x="607" y="242" width="3" height="2" fill="#ff0000"/><rect x="612" y="232" width="1" height="18" fill="#ff0000"/><rect x="611" y="236" width="3" height="8" fill="#ff0000"/><rect x="612" y="237" width="1" height="6" fill="#ff4500"/><rect x="616" y="220" width="1" height="31" fill="#32cd32"/><rect x="615" y="236" width="3" height="7" fill="#32cd32"/><rect x="620" y="206" width="1" height="38" fill="#ff0000"/><rect x="619" y="226" width="3" height="17" fill="#ff0000"/><rect x="620" y="227" width="1" height="15" fill="#ff4500"/><rect x="624" y="216" width="1" height="15" fill="#ff0000"/><rect x="623" y="222" width="3" height="6" fill="#ff0000"/><rect x="624" y="223" width="1" height="4" fill="#ff4500"/><rect x="628" y="222" width="1" height="35" fill="#32cd32"/><rect x="627" y="222" width="3" height="28" fill="#32cd32"/><rect x="632" y="214" width="1" height="40" fill="#ff0000"/><rect x="631" y="216" width="3" height="34" fill="#ff0000"/><rect x="632" y="217" width="1" height="32" fill="#ff4500"/><rect x="636" y="214" width="1" height="16" fill="#32cd32"/><rect x="635" y="216" width="3" height="11" fill="#32cd32"/><rect x="640" y="197" width="1" height="39" fill="#ff0000"/><rect x="639" y="197" width="3" height="31" fill="#ff0000"/><rect x="640" y="198" width="1" height="29" fill="#ff4500"/><rect x="644" y="162" width="1" height="60" fill="#ff0000"/><rect x="643" y="175" width="3" height="24" fill="#ff0000"/><rect x="644" y="176" width="1" height="22" fill="#ff4500"/><rect x="648" y="162" width="1" height="18" fill="#ff0000"/><rect x="647" y="162" width="3" height="15" fill="#ff0000"/><rect x="648" y="163" width="1" height="13" fill="#ff4500"/><rect x="652" y="146" width="1" height="50" fill="#32cd32"/><rect x="651" y="162" width="3" height="20" fill="#32cd32"/><rect x="656" y="167" width="1" height="28" fill="#ff0000"/><rect x="655" y="176" width="3" height="7" fill="#ff0000"/><rect x="656" y="177" width="1" height="5" fill="#ff4500"/><rect x="660" y="166" width="1" height="24" fill="#32cd32"/><rect x="659" y="176" width="3" height="11" fill="#32cd32"/><rect x="664" y="147" width="1" height="44" fill="#ff0000"/><rect x="663" y="153" width="3" height="34" fill="#ff0000"/><rect x="664" y="154" width="1" height="32" fill="#ff4500"/><rect x="668" y="153" width="1" height="28" fill="#32cd32"/><rect x="667" y="153" width="3" height="28" fill="#32cd32"/><rect x="672" y="162" width="1" height="23" fill="#ff0000"/><rect x="671" y="163" width="3" height="18" fill="#ff0000"/><rect x="672" y="164" width="1" height="16" fill="#ff4500"/><rect x="676" y="158" width="1" height="36" fill="#32cd32"/><rect x="675" y="163" width="3" height="28" fill="#32cd32"/><rect x="680" y="124" width="1" height="72" fill="#ff0000"/><rect x="679" y="132" width="3" height="59" fill="#ff0000"/><rect x="680" y="133" width="1" height="57" fill="#ff4500"/><rect x="684" y="126" width="1" height="14" fill="#ff0000"/><rect x="683" y="132" width="3" height="3" fill="#ff0000"/><rect x="684" y="133" width="1" height="1" fill="#ff4500"/><rect x="688" y="110" width="1" height="29" fill="#ff0000"/><rect x="687" y="114" width="3" height="20" fill="#ff0000"/><rect x="688" y="115" width="1" height="18" fill="#ff4500"/><rect x="692" y="119" width="1" height="16" fill="#ff0000"/><rect x="691" y="127" width="3" height="6" fill="#ff0000"/><rect x="692" y="128" width="1" height="4" fill="#ff4500"/><rect x="696" y="124" width="1" height="20" fill="#32cd32"/><rect x="695" y="127" width="3" height="9" fill="#32cd32"/><rect x="700" y="120" width="1" height="21" fill="#32cd32"/><rect x="699" y="134" width="3" height="6" fill="#32cd32"/><rect x="704" y="137" width="1" height="23" fill="#32cd32"/><rect x="703" y="137" width="3" height="14" fill="#32cd32"/><rect x="708" y="138" width="1" height="21" fill="#ff0000"/><rect x="707" y="143" width="3" height="8" fill="#ff0000"/><rect x="708" y="144" width="1" height="6" fill="#ff4500"/><rect x="712" y="141" width="1" height="28" fill="#32cd32"/><rect x="711" y="143" width="3" height="13" fill="#32cd32"/><rect x="716" y="144" width="1" height="17" fill="#ff0000"/><rect x="715" y="153" width="3" height="3" fill="#ff0000"/><rect x="716" y="154" width="1" height="1" fill="#ff4500"/><rect x="720" y="153" width="1" height="24" fill="#32cd32"/><rect x="719" y="154" width="3" height="9" fill="#32cd32"/><rect x="724" y="144" width="1" height="49" fill="#32cd32"/><rect x="723" y="160" width="3" height="20" fill="#32cd32"/><rect x="728" y="165" width="1" height="29" fill="#32cd32"/><rect x="727" y="178" width="3" height="15" fill="#32cd32"/><rect x="732" y="175" width="1" height="39" fill="#ff0000"/><rect x="731" y="185" width="3" height="8" fill="#ff0000"/><rect x="732" y="186" width="1" height="6" fill="#ff4500"/><rect x="736" y="181" width="1" height="53" fill="#32cd32"/><rect x="735" y="185" width="3" height="43" fill="#32cd32"/><rect x="740" y="211" width="1" height="32" fill="#ff0000"/><rect x="739" y="215" width="3" height="13" fill="#ff0000"/><rect x="740" y="216" width="1" height="11" fill="#ff4500"/><rect x="744" y="203" width="1" height="15" fill="#ff0000"/><rect x="743" y="204" width="3" height="13" fill="#ff0000"/><rect x="744" y="205" width="1" height="11" fill="#ff4500"/><rect x="748" y="196" width="1" height="24" fill="#32cd32"/><rect x="747" y="204" width="3" height="14" fill="#32cd32"/><rect x="752" y="173" width="1" height="46" fill="#ff0000"/><rect x="751" y="180" width="3" height="37" fill="#ff0000"/><rect x="752" y="181" width="1" height="35" fill="#ff4500"/><rect x="756" y="168" width="1" height="17" fill="#32cd32"/><rect x="755" y="180" width="3" height="5" fill="#32cd32"/><rect x="760" y="167" width="1" height="22" fill="#ff0000"/><rect x="759" y="181" width="3" height="3" fill="#ff0000"/><rect x="760" y="182" width="1" height="1" fill="#ff4500"/><rect x="764" y="176" width="1" height="22" fill="#32cd32"/><rect x="763" y="180" width="3" height="15" fill="#32cd32"/><rect x="768" y="189" width="1" height="12" fill="#ff0000"/><rect x="767" y="189" width="3" height="7" fill="#ff0000"/><rect x="768" y="190" width="1" height="5" fill="#ff4500"/><rect x="772" y="187" width="1" height="24" fill="#32cd32"/><rect x="771" y="189" width="3" height="6" fill="#32cd32"/><rect x="776" y="183" width="1" height="23" fill="#32cd32"/><rect x="775" y="193" width="3" height="13" fill="#32cd32"/><rect x="780" y="191" width="1" height="20" fill="#ff0000"/><rect x="779" y="197" width="3" height="9" fill="#ff0000"/><rect x="780" y="198" width="1" height="7" fill="#ff4500"/><rect x="784" y="187" width="1" height="14" fill="#ff0000"/><rect x="783" y="191" width="3" height="8" fill="#ff0000"/><rect x="784" y="192" width="1" height="6" fill="#ff4500"/><rect x="788" y="185" width="1" height="16" fill="#32cd32"/><rect x="787" y="190" width="3" height="4" fill="#32cd32"/><rect x="792" y="189" width="1" height="13" fill="#32cd32"/><rect x="791" y="192" width="3" height="9" fill="#32cd32"/><rect x="796" y="195" width="1" height="30" fill="#32cd32"/><rect x="795" y="198" width="3" height="27" fill="#32cd32"/><rect x="800" y="208" width="1" height="19" fill="#ff0000"/><rect x="799" y="210" width="3" height="12" fill="#ff0000"/><rect x="800" y="211" width="1" height="10" fill="#ff4500"/><rect x="804" y="207" width="1" height="13" fill="#32cd32"/><rect x="803" y="210" width="3" height="8" fill="#32cd32"/><rect x="808" y="209" width="1" height="15" fill="#32cd32"/><rect x="807" y="216" width="3" height="4" fill="#32cd32"/><rect x="812" y="205" width="1" height="16" fill="#ff0000"/><rect x="811" y="208" width="3" height="3" fill="#ff0000"/><rect x="812" y="209" width="1" height="1" fill="#ff4500"/><rect x="816" y="189" width="1" height="21" fill="#ff0000"/><rect x="815" y="190" width="3" height="20" fill="#ff0000"/><rect x="816" y="191" width="1" height="18" fill="#ff4500"/><rect x="820" y="168" width="1" height="25" fill="#ff0000"/><rect x="819" y="177" width="3" height="15" fill="#ff0000"/><rect x="820" y="178" width="1" height="13" fill="#ff4500"/><rect x="824" y="176" width="1" height="27" fill="#32cd32"/><rect x="823" y="177" width="3" height="23" fill="#32cd32"/><rect x="828" y="197" width="1" height="16" fill="#32cd32"/><rect x="827" y="198" width="3" height="14" fill="#32cd32"/><rect x="832" y="207" width="1" height="14" fill="#32cd32"/><rect x="831" y="210" width="3" height="7" fill="#32cd32"/><rect x="836" y="212" width="1" height="20" fill="#32cd32"/><rect x="835" y="215" width="3" height="12" fill="#32cd32"/><rect x="840" y="205" width="1" height="22" fill="#ff0000"/><rect x="839" y="209" width="3" height="18" fill="#ff0000"/><rect x="840" y="210" width="1" height="16" fill="#ff4500"/><rect x="844" y="175" width="1" height="44" fill="#ff0000"/><rect x="843" y="207" width="3" height="4" fill="#ff0000"/><rect x="844" y="208" width="1" height="2" fill="#ff4500"/><rect x="848" y="193" width="1" height="34" fill="#32cd32"/><rect x="847" y="207" width="3" height="18" fill="#32cd32"/><rect x="852" y="213" width="1" height="16" fill="#ff0000"/><rect x="851" y="223" width="3" height="3" fill="#ff0000"/><rect x="852" y="224" width="1" height="1" fill="#ff4500"/><rect x="856" y="218" width="1" height="29" fill="#ff0000"/><rect x="855" y="221" width="3" height="4" fill="#ff0000"/><rect x="856" y="222" width="1" height="2" fill="#ff4500"/><rect x="860" y="208" width="1" height="16" fill="#ff0000"/><rect x="859" y="209" width="3" height="14" fill="#ff0000"/><rect x="860" y="210" width="1" height="12" fill="#ff4500"/><rect x="864" y="201" width="1" height="19" fill="#ff0000"/><rect x="863" y="206" width="3" height="4" fill="#ff0000"/><rect x="864" y="207" width="1" height="2" fill="#ff4500"/><rect x="868" y="203" width="1" height="20" fill="#32cd32"/><rect x="867" y="206" width="3" height="3" fill="#32cd32"/><rect x="872" y="197" width="1" height="22" fill="#32cd32"/><rect x="871" y="207" width="3" height="8" fill="#32cd32"/><rect x="876" y="210" width="1" height="13" fill="#32cd32"/><rect x="875" y="214" width="3" height="9" fill="#32cd32"/><rect x="880" y="116" width="1" height="108" fill="#ff0000"/><rect x="879" y="129" width="3" height="95" fill="#ff0000"/><rect x="880" y="130" width="1" height="93" fill="#ff4500"/><rect x="884" y="129" width="1" height="21" fill="#32cd32"/><rect x="883" y="129" width="3" height="20" fill="#32cd32"/><rect x="888" y="122" width="1" height="27" fill="#ff0000"/><rect x="887" y="126" width="3" height="22" fill="#ff0000"/><rect x="888" y="127" width="1" height="20" fill="#ff4500"/><rect x="892" y="111" width="1" height="26" fill="#32cd32"/><rect x="891" y="126" width="3" height="9" fill="#32cd32"/><rect x="896" y="100" width="1" height="41" fill="#ff0000"/><rect x="895" y="124" width="3" height="11" fill="#ff0000"/><rect x="896" y="125" width="1" height="9" fill="#ff4500"/><rect x="900" y="103" width="1" height="34" fill="#32cd32"/><rect x="899" y="123" width="3" height="10" fill="#32cd32"/><rect x="904" y="116" width="1" height="32" fill="#ff0000"/><rect x="903" y="125" width="3" height="7" fill="#ff0000"/><rect x="904" y="126" width="1" height="5" fill="#ff4500"/><rect x="908" y="118" width="1" height="16" fill="#ff0000"/><rect x="907" y="124" width="3" height="2" fill="#ff0000"/><rect x="912" y="121" width="1" height="14" fill="#32cd32"/><rect x="911" y="124" width="3" height="6" fill="#32cd32"/><rect x="916" y="125" width="1" height="24" fill="#32cd32"/><rect x="915" y="129" width="3" height="17" fill="#32cd32"/><rect x="920" y="129" width="1" height="24" fill="#32cd32"/><rect x="919" y="144" width="3" height="7" fill="#32cd32"/><rect x="924" y="141" width="1" height="20" fill="#ff0000"/><rect x="923" y="141" width="3" height="10" fill="#ff0000"/><rect x="924" y="142" width="1" height="8" fill="#ff4500"/><rect x="928" y="129" width="1" height="24" fill="#32cd32"/><rect x="927" y="141" width="3" height="2" fill="#32cd32"/><rect x="932" y="70" width="1" height="28" fill="#32cd32"/><rect x="931" y="83" width="3" height="6" fill="#32cd32"/><rect x="936" y="72" width="1" height="18" fill="#ff0000"/><rect x="935" y="77" width="3" height="11" fill="#ff0000"/><rect x="936" y="78" width="1" height="9" fill="#ff4500"/><rect x="940" y="51" width="1" height="29" fill="#ff0000"/><rect x="939" y="70" width="3" height="8" fill="#ff0000"/><rect x="940" y="71" width="1" height="6" fill="#ff4500"/><rect x="944" y="60" width="1" height="20" fill="#32cd32"/><rect x="943" y="70" width="3" height="4" fill="#32cd32"/><rect x="948" y="68" width="1" height="22" fill="#32cd32"/><rect x="947" y="76" width="3" height="13" fill="#32cd32"/><rect x="952" y="76" width="1" height="24" fill="#32cd32"/><rect x="951" y="87" width="3" height="11" fill="#32cd32"/><rect x="956" y="79" width="1" height="19" fill="#ff0000"/><rect x="955" y="85" width="3" height="13" fill="#ff0000"/><rect x="956" y="86" width="1" height="11" fill="#ff4500"/><rect x="960" y="64" width="1" height="27" fill="#ff0000"/><rect x="959" y="66" width="3" height="21" fill="#ff0000"/><rect x="960" y="67" width="1" height="19" fill="#ff4500"/><rect x="964" y="51" width="1" height="19" fill="#ff0000"/><rect x="963" y="57" width="3" height="11" fill="#ff0000"/><rect x="964" y="58" width="1" height="9" fill="#ff4500"/><rect x="968" y="52" width="1" height="28" fill="#32cd32"/><rect x="967" y="57" width="3" height="19" fill="#32cd32"/><rect x="972" y="74" width="1" height="20" fill="#32cd32"/><rect x="971" y="74" width="3" height="19" fill="#32cd32"/><rect x="976" y="83" width="1" height="37" fill="#32cd32"/><rect x="975" y="90" width="3" height="18" fill="#32cd32"/><rect x="980" y="88" width="1" height="64" fill="#32cd32"/><rect x="979" y="107" width="3" height="32" fill="#32cd32"/><rect x="984" y="134" width="1" height="29" fill="#32cd32"/><rect x="983" y="137" width="3" height="9" fill="#32cd32"/><rect x="988" y="143" width="1" height="20" fill="#32cd32"/><rect x="987" y="144" width="3" height="10" fill="#32cd32"/><rect x="992" y="144" width="1" height="30" fill="#32cd32"/><rect x="991" y="152" width="3" height="22" fill="#32cd32"/><rect x="996" y="171" width="1" height="13" fill="#32cd32"/><rect x="995" y="173" width="3" height="5" fill="#32cd32"/><rect x="1000" y="168" width="1" height="15" fill="#32cd32"/><rect x="999" y="175" width="3" height="8" fill="#32cd32"/><rect x="1004" y="171" width="1" height="50" fill="#32cd32"/><rect x="1003" y="180" width="3" height="40" fill="#32cd32"/><rect x="1008" y="212" width="1" height="16" fill="#32cd32"/><rect x="1007" y="215" width="3" height="12" fill="#32cd32"/><rect x="1012" y="203" width="1" height="50" fill="#32cd32"/><rect x="1011" y="221" width="3" height="24" fill="#32cd32"/><rect x="1016" y="214" width="1" height="36" fill="#ff0000"/><rect x="1015" y="221" width="3" height="24" fill="#ff0000"/><rect x="1016" y="222" width="1" height="22" fill="#ff4500"/><rect x="1020" y="211" width="1" height="24" fill="#32cd32"/><rect x="1019" y="222" width="3" height="12" fill="#32cd32"/><rect x="1024" y="213" width="1" height="28" fill="#ff0000"/><rect x="1023" y="222" width="3" height="12" fill="#ff0000"/><rect x="1024" y="223" width="1" height="10" fill="#ff4500"/><rect x="1028" y="207" width="1" height="18" fill="#ff0000"/><rect x="1027" y="215" width="3" height="9" fill="#ff0000"/><rect x="1028" y="216" width="1" height="7" fill="#ff4500"/><rect x="1032" y="215" width="1" height="5" fill="#32cd32"/><rect x="1031" y="216" width="3" height="3" fill="#32cd32"/></g>
<rect x="924" y="48" width="247" height="2" fill="#ff0000"/>
<rect x="877" y="156" width="394" height="2" fill="#00ff00"/>
<rect x="1008" y="252" width="218" height="2" fill="#0000ff"/>
<g clip-path="url(#cm)"><rect x="-1" y="497" width="3" height="34" fill="#c0c0c0"/><rect x="3" y="497" width="3" height="33" fill="#c0c0c0"/><rect x="7" y="497" width="3" height="32" fill="#c0c0c0"/><rect x="11" y="497" width="3" height="27" fill="#c0c0c0"/><rect x="15" y="497" width="3" height="22" fill="#c0c0c0"/><rect x="19" y="497" width="3" height="15" fill="#c0c0c0"/><rect x="23" y="497" width="3" height="9" fill="#c0c0c0"/><rect x="27" y="497" width="3" height="8" fill="#c0c0c0"/><rect x="31" y="497" width="3" height="7" fill="#c0c0c0"/><rect x="35" y="497" width="3" height="6" fill="#c0c0c0"/><rect x="39" y="497" width="3" height="8" fill="#c0c0c0"/><rect x="43" y="497" width="3" height="9" fill="#c0c0c0"/><rect x="47" y="497" width="3" height="10" fill="#c0c0c0"/><rect x="51" y="497" width="3" height="9" fill="#c0c0c0"/><rect x="55" y="497" width="3" height="4" fill="#c0c0c0"/><rect x="59" y="497" width="3" height="1" fill="#c0c0c0"/><rect x="63" y="496" width="3" height="1" fill="#c0c0c0"/><rect x="67" y="493" width="3" height="4" fill="#c0c0c0"/><rect x="71" y="491" width="3" height="6" fill="#c0c0c0"/><rect x="75" y="490" width="3" height="7" fill="#c0c0c0"/><rect x="79" y="487" width="3" height="10" fill="#c0c0c0"/><rect x="83" y="487" width="3" height="10" fill="#c0c0c0"/><rect x="87" y="489" width="3" height="8" fill="#c0c0c0"/><rect x="91" y="490" width="3" height="7" fill="#c0c0c0"/><rect x="95" y="489" width="3" height="8" fill="#c0c0c0"/><rect x="99" y="486" width="3" height="11" fill="#c0c0c0"/><rect x="103" y="484" width="3" height="13" fill="#c0c0c0"/><rect x="107" y="482" width="3" height="15" fill="#c0c0c0"/><rect x="111" y="483" width="3" height="14" fill="#c0c0c0"/><rect x="115" y="482" width="3" height="15" fill="#c0c0c0"/><rect x="119" y="484" width="3" height="13" fill="#c0c0c0"/><rect x="123" y="485" width="3" height="12" fill="#c0c0c0"/><rect x="127" y="483" width="3" height="14" fill="#c0c0c0"/><rect x="131" y="483" width="3" height="14" fill="#c0c0c0"/><rect x="135" y="482" width="3" height="15" fill="#c0c0c0"/><rect x="139" y="483" width="3" height="14" fill="#c0c0c0"/><rect x="143" y="484" width="3" height="13" fill="#c0c0c0"/><rect x="147" y="483" width="3" height="14" fill="#c0c0c0"/><rect x="151" y="486" width="3" height="11" fill="#c0c0c0"/><rect x="155" y="487" width="3" height="10" fill="#c0c0c0"/><rect x="159" y="490" width="3" height="7" fill="#c0c0c0"/><rect x="163" y="492" width="3" height="5" fill="#c0c0c0"/><rect x="167" y="493" width="3" height="4" fill="#c0c0c0"/><rect x="171" y="490" width="3" height="7" fill="#c0c0c0"/><rect x="175" y="491" width="3" height="6" fill="#c0c0c0"/><rect x="179" y="493" width="3" height="4" fill="#c0c0c0"/><rect x="183" y="497" width="3" height="1" fill="#c0c0c0"/><rect x="187" y="497" width="3" height="3" fill="#c0c0c0"/><rect x="191" y="497" width="3" height="3" fill="#c0c0c0"/><rect x="195" y="497" width="3" height="4" fill="#c0c0c0"/><rect x="199" y="497" width="3" height="1" fill="#c0c0c0"/><rect x="203" y="496" width="3" height="1" fill="#c0c0c0"/><rect x="207" y="497" width="3" height="1" fill="#c0c0c0"/><rect x="211" y="497" width="3" height="2" fill="#c0c0c0"/><rect x="215" y="497" width="3" height="2" fill="#c0c0c0"/><rect x="219" y="497" width="3" height="4" fill="#c0c0c0"/><rect x="223" y="497" width="3" height="7" fill="#c0c0c0"/><rect x="227" y="497" width="3" height="10" fill="#c0c0c0"/><rect x="231" y="497" width="3" height="12" fill="#c0c0c0"/><rect x="235" y="497" width="3" height="16" fill="#c0c0c0"/><rect x="239" y="497" width="3" height="19" fill="#c0c0c0"/><rect x="243" y="497" width="3" height="19" fill="#c0c0c0"/><rect x="247" y="497" width="3" height="20" fill="#c0c0c0"/><rect x="251" y="497" width="3" height="21" fill="#c0c0c0"/><rect x="255" y="497" width="3" height="19" fill="#c0c0c0"/><rect x="259" y="497" width="3" height="17" fill="#c0c0c0"/><rect x="263" y="497" width="3" height="14" fill="#c0c0c0"/><rect x="267" y="497" width="3" height="13" fill="#c0c0c0"/><rect x="271" y="497" width="3" height="14" fill="#c0c0c0"/><rect x="275" y="497" width="3" height="15" fill="#c0c0c0"/><rect x="279" y="497" width="3" height="16" fill="#c0c0c0"/><rect x="283" y="497" width="3" height="16" fill="#c0c0c0"/><rect x="287" y="497" width="3" height="16" fill="#c0c0c0"/><rect x="291" y="497" width="3" height="14" fill="#c0c0c0"/><rect x="295" y="497" width="3" height="13" fill="#c0c0c0"/><rect x="299" y="497" width="3" height="11" fill="#c0c0c0"/><rect x="303" y="497" width="3" height="10" fill="#c0c0c0"/><rect x="307" y="497" width="3" height="11" fill="#c0c0c0"/><rect x="311" y="497" width="3" height="16" fill="#c0c0c0"/><rect x="315" y="497" width="3" height="20" fill="#c0c0c0"/><rect x="319" y="497" width="3" height="21" fill="#c0c0c0"/><rect x="323" y="497" width="3" height="16" fill="#c0c0c0"/><rect x="327" y="497" width="3" height="12" fill="#c0c0c0"/><rect x="331" y="497" width="3" height="8" fill="#c0c0c0"/><rect x="335" y="497" width="3" height="5" fill="#c0c0c0"/><rect x="339" y="497" width="3" height="3" fill="#c0c0c0"/><rect x="343" y="497" width="3" height="3" fill="#c0c0c0"/><rect x="347" y="497" width="3" height="3" fill="#c0c0c0"/><rect x="351" y="497" width="3" height="5" fill="#c0c0c0"/><rect x="355" y="497" width="3" height="5" fill="#c0c0c0"/><rect x="359" y="497" width="3" height="3" fill="#c0c0c0"/><rect x="363" y="497" width="3" height="2" fill="#c0c0c0"/><rect x="367" y="494" width="3" height="3" fill="#c0c0c0"/><rect x="371" y="491" width="3" height="6" fill="#c0c0c0"/><rect x="375" y="489" width="3" height="8" fill="#c0c0c0"/><rect x="379" y="490" width="3" height="7" fill="#c0c0c0"/><rect x="383" y="491" width="3" height="6" fill="#c0c0c0"/><rect x="387" y="493" width="3" height="4" fill="#c0c0c0"/><rect x="391" y="494" width="3" height="3" fill="#c0c0c0"/><rect x="395" y="494" width="3" height="3" fill="#c0c0c0"/><rect x="399" y="495" width="3" height="2" fill="#c0c0c0"/><rect x="403" y="492" width="3" height="5" fill="#c0c0c0"/><rect x="407" y="488" width="3" height="9" fill="#c0c0c0"/><rect x="411" y="480" width="3" height="17" fill="#c0c0c0"/><rect x="415" y="472" width="3" height="25" fill="#c0c0c0"/><rect x="419" y="466" width="3" height="31" fill="#c0c0c0"/><rect x="423" y="459" width="3" height="38" fill="#c0c0c0"/><rect x="427" y="455" width="3" height="42" fill="#c0c0c0"/><rect x="431" y="447" width="3" height="50" fill="#c0c0c0"/><rect x="435" y="441" width="3" height="56" fill="#c0c0c0"/><rect x="439" y="441" width="3" height="56" fill="#c0c0c0"/><rect x="443" y="443" width="3" height="54" fill="#c0c0c0"/><rect x="447" y="446" width="3" height="51" fill="#c0c0c0"/><rect x="451" y="450" width="3" height="47" fill="#c0c0c0"/><rect x="455" y="453" width="3" height="44" fill="#c0c0c0"/><rect x="459" y="455" width="3" height="42" fill="#c0c0c0"/><rect x="463" y="455" width="3" height="42" fill="#c0c0c0"/><rect x="467" y="457" width="3" height="40" fill="#c0c0c0"/><rect x="471" y="457" width="3" height="40" fill="#c0c0c0"/><rect x="475" y="458" width="3" height="39" fill="#c0c0c0"/><rect x="479" y="458" width="3" height="39" fill="#c0c0c0"/><rect x="483" y="458" width="3" height="39" fill="#c0c0c0"/><rect x="487" y="458" width="3" height="39" fill="#c0c0c0"/><rect x="491" y="459" width="3" height="38" fill="#c0c0c0"/><rect x="495" y="461" width="3" height="36" fill="#c0c0c0"/><rect x="499" y="462" width="3" height="35" fill="#c0c0c0"/><rect x="503" y="461" width="3" height="36" fill="#c0c0c0"/><rect x="507" y="455" width="3" height="42" fill="#c0c0c0"/><rect x="511" y="452" width="3" height="45" fill="#c0c0c0"/><rect x="515" y="450" width="3" height="47" fill="#c0c0c0"/><rect x="519" y="449" width="3" height="48" fill="#c0c0c0"/><rect x="523" y="450" width="3" height="47" fill="#c0c0c0"/><rect x="527" y="449" width="3" height="48" fill="#c0c0c0"/><rect x="531" y="450" width="3" height="47" fill="#c0c0c0"/><rect x="535" y="450" width="3" height="47" fill="#c0c0c0"/><rect x="539" y="451" width="3" height="46" fill="#c0c0c0"/><rect x="543" y="457" width="3" height="40" fill="#c0c0c0"/><rect x="547" y="463" width="3" height="34" fill="#c0c0c0"/><rect x="551" y="468" width="3" height="29" fill="#c0c0c0"/><rect x="555" y="473" width="3" height="24" fill="#c0c0c0"/><rect x="559" y="476" width="3" height="21" fill="#c0c0c0"/><rect x="563" y="479" width="3" height="18" fill="#c0c0c0"/><rect x="567" y="484" width="3" height="13" fill="#c0c0c0"/><rect x="571" y="486" width="3" height="11" fill="#c0c0c0"/><rect x="575" y="493" width="3" height="4" fill="#c0c0c0"/><rect x="579" y="497" width="3" height="1" fill="#c0c0c0"/><rect x="583" y="497" width="3" height="4" fill="#c0c0c0"/><rect x="587" y="497" width="3" height="7" fill="#c0c0c0"/><rect x="591" y="497" width="3" height="11" fill="#c0c0c0"/><rect x="595" y="497" width="3" height="15" fill="#c0c0c0"/><rect x="599" y="497" width="3" height="14" fill="#c0c0c0"/><rect x="603" y="497" width="3" height="15" fill="#c0c0c0"/><rect x="607" y="497" width="3" height="15" fill="#c0c0c0"/><rect x="611" y="497" width="3" height="14" fill="#c0c0c0"/><rect x="615" y="497" width="3" height="14" fill="#c0c0c0"/><rect x="619" y="497" width="3" height="12" fill="#c0c0c0"/><rect x="623" y="497" width="3" height="9" fill="#c0c0c0"/><rect x="627" y="497" width="3" height="11" fill="#c0c0c0"/><rect x="631" y="497" width="3" height="8" fill="#c0c0c0"/><rect x="635" y="497" width="3" height="6" fill="#c0c0c0"/><rect x="639" y="497" width="3" height="2" fill="#c0c0c0"/><rect x="643" y="493" width="3" height="4" fill="#c0c0c0"/><rect x="647" y="486" width="3" height="11" fill="#c0c0c0"/><rect x="651" y="483" width="3" height="14" fill="#c0c0c0"/><rect x="655" y="481" width="3" height="16" fill="#c0c0c0"/><rect x="659" y="480" width="3" height="17" fill="#c0c0c0"/><rect x="663" y="476" width="3" height="21" fill="#c0c0c0"/><rect x="667" y="476" width="3" height="21" fill="#c0c0c0"/><rect x="671" y="475" width="3" height="22" fill="#c0c0c0"/><rect x="675" y="477" width="3" height="20" fill="#c0c0c0"/><rect x="679" y="472" width="3" height="25" fill="#c0c0c0"/><rect x="683" y="468" width="3" height="29" fill="#c0c0c0"/><rect x="687" y="463" width="3" height="34" fill="#c0c0c0"/><rect x="691" y="462" width="3" height="35" fill="#c0c0c0"/><rect x="695" y="462" width="3" height="35" fill="#c0c0c0"/><rect x="699" y="462" width="3" height="35" fill="#c0c0c0"/><rect x="703" y="465" width="3" height="32" fill="#c0c0c0"/><rect x="707" y="466" width="3" height="31" fill="#c0c0c0"/><rect x="711" y="469" width="3" height="28" fill="#c0c0c0"/><rect x="715" y="471" width="3" height="26" fill="#c0c0c0"/><rect x="719" y="475" width="3" height="22" fill="#c0c0c0"/><rect x="723" y="480" width="3" height="17" fill="#c0c0c0"/><rect x="727" y="485" width="3" height="12" fill="#c0c0c0"/><rect x="731" y="489" width="3" height="8" fill="#c0c0c0"/><rect x="735" y="497" width="3" height="1" fill="#c0c0c0"/><rect x="739" y="497" width="3" height="5" fill="#c0c0c0"/><rect x="743" y="497" width="3" height="7" fill="#c0c0c0"/><rect x="747" y="497" width="3" height="11" fill="#c0c0c0"/><rect x="751" y="497" width="3" height="9" fill="#c0c0c0"/><rect x="755" y="497" width="3" height="7" fill="#c0c0c0"/><rect x="759" y="497" width="3" height="6" fill="#c0c0c0"/><rect x="763" y="497" width="3" height="7" fill="#c0c0c0"/><rect x="767" y="497" width="3" height="6" fill="#c0c0c0"/><rect x="771" y="497" width="3" height="7" fill="#c0c0c0"/><rect x="775" y="497" width="3" height="8" fill="#c0c0c0"/><rect x="779" y="497" width="3" height="8" fill="#c0c0c0"/><rect x="783" y="497" width="3" height="7" fill="#c0c0c0"/><rect x="787" y="497" width="3" height="7" fill="#c0c0c0"/><rect x="791" y="497" width="3" height="7" fill="#c0c0c0"/><rect x="795" y="497" width="3" height="10" fill="#c0c0c0"/><rect x="799" y="497" width="3" height="11" fill="#c0c0c0"/><rect x="803" y="497" width="3" height="12" fill="#c0c0c0"/><rect x="807" y="497" width="3" height="13" fill="#c0c0c0"/><rect x="811" y="497" width="3" height="13" fill="#c0c0c0"/><rect x="815" y="497" width="3" height="10" fill="#c0c0c0"/><rect x="819" y="497" width="3" height="6" fill="#c0c0c0"/><rect x="823" y="497" width="3" height="6" fill="#c0c0c0"/><rect x="827" y="497" width="3" height="7" fill="#c0c0c0"/><rect x="831" y="497" width="3" height="8" fill="#c0c0c0"/><rect x="835" y="497" width="3" height="10" fill="#c0c0c0"/><rect x="839" y="497" width="3" height="10" fill="#c0c0c0"/><rect x="843" y="497" width="3" height="9" fill="#c0c0c0"/><rect x="847" y="497" width="3" height="10" fill="#c0c0c0"/><rect x="851" y="497" width="3" height="11" fill="#c0c0c0"/><rect x="855" y="497" width="3" height="12" fill="#c0c0c0"/><rect x="859" y="497" width="3" height="10" fill="#c0c0c0"/><rect x="863" y="497" width="3" height="9" fill="#c0c0c0"/><rect x="867" y="497" width="3" height="7" fill="#c0c0c0"/><rect x="871" y="497" width="3" height="7" fill="#c0c0c0"/><rect x="875" y="497" width="3" height="8" fill="#c0c0c0"/><rect x="879" y="494" width="3" height="3" fill="#c0c0c0"/><rect x="883" y="488" width="3" height="9" fill="#c0c0c0"/><rect x="887" y="481" width="3" height="16" fill="#c0c0c0"/><rect x="891" y="476" width="3" height="21" fill="#c0c0c0"/><rect x="895" y="472" width="3" height="25" fill="#c0c0c0"/><rect x="899" y="469" width="3" height="28" fill="#c0c0c0"/><rect x="903" y="467" width="3" height="30" fill="#c0c0c0"/><rect x="907" y="465" width="3" height="32" fill="#c0c0c0"/><rect x="911" y="465" width="3" height="32" fill="#c0c0c0"/><rect x="915" y="467" width="3" height="30" fill="#c0c0c0"/><rect x="919" y="470" width="3" height="27" fill="#c0c0c0"/><rect x="923" y="471" width="3" height="26" fill="#c0c0c0"/><rect x="927" y="472" width="3" height="25" fill="#c0c0c0"/><rect x="931" y="467" width="3" height="30" fill="#c0c0c0"/><rect x="935" y="462" width="3" height="35" fill="#c0c0c0"/><rect x="939" y="458" width="3" height="39" fill="#c0c0c0"/><rect x="943" y="455" width="3" height="42" fill="#c0c0c0"/><rect x="947" y="455" width="3" height="42" fill="#c0c0c0"/><rect x="951" y="457" width="3" height="40" fill="#c0c0c0"/><rect x="955" y="457" width="3" height="40" fill="#c0c0c0"/><rect x="959" y="456" width="3" height="41" fill="#c0c0c0"/><rect x="963" y="454" width="3" height="43" fill="#c0c0c0"/><rect x="967" y="455" width="3" height="42" fill="#c0c0c0"/><rect x="971" y="459" width="3" height="38" fill="#c0c0c0"/><rect x="975" y="464" width="3" height="33" fill="#c0c0c0"/><rect x="979" y="472" width="3" height="25" fill="#c0c0c0"/><rect x="983" y="479" width="3" height="18" fill="#c0c0c0"/><rect x="987" y="486" width="3" height="11" fill="#c0c0c0"/><rect x="991" y="494" width="3" height="3" fill="#c0c0c0"/><rect x="995" y="497" width="3" height="4" fill="#c0c0c0"/><rect x="999" y="497" width="3" height="10" fill="#c0c0c0"/><rect x="1003" y="497" width="3" height="19" fill="#c0c0c0"/><rect x="1007" y="497" width="3" height="27" fill="#c0c0c0"/><rect x="1011" y="497" width="3" height="35" fill="#c0c0c0"/><rect x="1015" y="497" width="3" height="38" fill="#c0c0c0"/><rect x="1019" y="497" width="3" height="41" fill="#c0c0c0"/><rect x="1023" y="497" width="3" height="42" fill="#c0c0c0"/><rect x="1027" y="497" width="3" height="41" fill="#c0c0c0"/><rect x="1031" y="497" width="3" height="41" fill="#c0c0c0"/><g><polyline points="0.5,546.4 4.5,543.7 8.5,541.0 12.5,537.8 16.5,534.1 20.5,530.0 24.5,525.7 28.5,521.7 32.5,518.1 36.5,514.9 40.5,512.2 44.5,509.7 48.5,507.9 52.5,506.4 56.5,505.2 60.5,504.4 64.5,503.4 68.5,502.2 72.5,501.0 76.5,499.3 80.5,497.1 84.5,494.9 88.5,493.0 92.5,491.7 96.5,490.7 100.5,489.6 104.5,488.6 108.5,487.6 112.5,486.8 116.5,486.2 120.5,485.9 124.5,485.4 128.5,484.7 132.5,484.0 136.5,483.6 140.5,483.5 144.5,483.7 148.5,483.8 152.5,484.3 156.5,484.6 160.5,485.2 164.5,486.2 168.5,487.3 172.5,488.2 176.5,489.1 180.5,490.2 184.5,491.7 188.5,493.2 192.5,494.6 196.5,495.8 200.5,496.3 204.5,496.7 208.5,497.4 212.5,498.2 216.5,498.8 220.5,499.2 224.5,499.7 228.5,500.4 232.5,501.4 236.5,503.2 240.5,505.4 244.5,507.5 248.5,509.6 252.5,511.7 256.5,513.3 260.5,514.5 264.5,514.9 268.5,514.9 272.5,514.7 276.5,514.2 280.5,513.9 284.5,513.5 288.5,512.9 292.5,512.4 296.5,511.9 300.5,511.6 304.5,511.3 308.5,511.0 312.5,511.1 316.5,511.6 320.5,512.1 324.5,512.2 328.5,511.9 332.5,511.4 336.5,510.8 340.5,509.9 344.5,509.1 348.5,507.7 352.5,506.0 356.5,504.2 360.5,502.8 364.5,501.7 368.5,500.4 372.5,499.1 376.5,497.9 380.5,496.9 384.5,495.8 388.5,494.8 392.5,493.9 396.5,493.2 400.5,492.7 404.5,492.5 408.5,492.2 412.5,491.2 416.5,489.2 420.5,486.4 424.5,482.6 428.5,478.3 432.5,473.1 436.5,467.1 440.5,461.4 444.5,456.4 448.5,452.6 452.5,450.1 456.5,448.7 460.5,448.3 464.5,448.4 468.5,449.5 472.5,451.2 476.5,453.2 480.5,454.9 484.5,456.2 488.5,457.0 492.5,457.6 496.5,458.3 500.5,459.0 504.5,459.5 508.5,459.3 512.5,458.6 516.5,457.7 520.5,456.7 524.5,455.9 528.5,454.9 532.5,453.7 536.5,452.4 540.5,451.2 544.5,451.4 548.5,452.7 552.5,454.6 556.5,457.3 560.5,460.2 564.5,463.4 568.5,467.1 572.5,471.2 576.5,475.9 580.5,480.4 584.5,484.6 588.5,488.7 592.5,492.6 596.5,496.6 600.5,500.2 604.5,503.4 608.5,506.2 612.5,508.2 616.5,509.6 620.5,510.5 624.5,510.8 628.5,510.7 632.5,509.9 636.5,509.0 640.5,507.6 644.5,505.4 648.5,502.6 652.5,499.6 656.5,496.5 660.5,493.6 664.5,490.1 668.5,486.9 672.5,483.7 676.5,481.3 680.5,478.9 684.5,476.9 688.5,474.7 692.5,472.5 696.5,470.4 700.5,468.9 704.5,467.7 708.5,466.7 712.5,465.9 716.5,465.9 720.5,466.6 724.5,468.4 728.5,471.0 732.5,474.1 736.5,477.9 740.5,482.0 744.5,486.2 748.5,490.5 752.5,494.3 756.5,497.6 760.5,500.2 764.5,502.3 768.5,503.9 772.5,504.6 776.5,504.9 780.5,505.0 784.5,504.7 788.5,504.5 792.5,504.5 796.5,505.0 800.5,505.5 804.5,506.2 808.5,506.9 812.5,507.5 816.5,507.7 820.5,507.6 824.5,507.4 828.5,507.4 832.5,507.1 836.5,507.0 840.5,506.7 844.5,506.2 848.5,505.9 852.5,506.0 856.5,506.6 860.5,507.1 864.5,507.4 868.5,507.3 872.5,507.0 876.5,506.8 880.5,505.5 884.5,503.4 888.5,500.3 892.5,496.7 896.5,492.8 900.5,488.8 904.5,484.6 908.5,480.2 912.5,475.8 916.5,472.7 920.5,470.7 924.5,469.6 928.5,469.1 932.5,468.6 936.5,467.8 940.5,466.7 944.5,465.6 948.5,464.5 952.5,463.4 956.5,462.0 960.5,460.3 964.5,458.3 968.5,456.9 972.5,456.6 976.5,457.2 980.5,459.1 984.5,461.8 988.5,465.0 992.5,469.1 996.5,474.1 1000.5,480.0 1004.5,486.8 1008.5,494.0 1012.5,501.6 1016.5,508.6 1020.5,515.1 1024.5,521.0 1028.5,525.9 1032.5,529.9" fill="none" stroke="#ff0000" stroke-width="1"/></g></g>
<g fill="#000" stroke="#000" stroke-width="0.1" shape-rendering="auto"><rect x="1304" y="34" width="3" height="1" fill="#000"/><text x="1309" y="37.7">0.74090</text><rect x="1304" y="67" width="3" height="1" fill="#000"/><text x="1309" y="70.8">0.73760</text><rect x="1304" y="100" width="3" height="1" fill="#000"/><text x="1309" y="103.8">0.73430</text><rect x="1304" y="133" width="3" height="1" fill="#000"/><text x="1309" y="136.8">0.73100</text><rect x="1304" y="166" width="3" height="1" fill="#000"/><text x="1309" y="169.9">0.72770</text><rect x="1304" y="199" width="3" height="1" fill="#000"/><text x="1309" y="203.0">0.72440</text><rect x="1304" y="232" width="3" height="1" fill="#000"/><text x="1309" y="236.0">0.72105</text><rect x="1304" y="265" width="3" height="1" fill="#000"/><text x="1309" y="269.0">0.71775</text><rect x="1304" y="298" width="3" height="1" fill="#000"/><text x="1309" y="302.1">0.71445</text><rect x="1304" y="331" width="3" height="1" fill="#000"/><text x="1309" y="335.1">0.71115</text><rect x="1304" y="364" width="3" height="1" fill="#000"/><text x="1309" y="368.2">0.70785</text><rect x="1304" y="397" width="3" height="1" fill="#000"/><text x="1309" y="401.2">0.70455</text><rect x="1304" y="430" width="3" height="1" fill="#000"/><text x="1309" y="434.3">0.70125</text><rect x="1305" y="213" width="40" height="11" fill="#000"/><text x="1309" y="221.8" fill="#fff">0.72249</text><rect x="1304" y="497" width="2" height="1" fill="#000"/><text x="1307.6" y="446.0">0.004051</text><text x="1307.6" y="500.8">0.00</text><text x="1307.6" y="548.2">-0.00352</text><rect x="0" y="552" width="1" height="3" fill="#000"/><text x="-0.8" y="563.6">9 Oct 2018</text><rect x="64" y="552" width="1" height="3" fill="#000"/><text x="63.2" y="563.6">12 Oct 00:00</text><rect x="128" y="552" width="1" height="3" fill="#000"/><text x="127.2" y="563.6">16 Oct 18:00</text><rect x="192" y="552" width="1" height="3" fill="#000"/><text x="191.2" y="563.6">19 Oct 10:00</text><rect x="256" y="552" width="1" height="3" fill="#000"/><text x="255.2" y="563.6">24 Oct 00:00</text><rect x="320" y="552" width="1" height="3" fill="#000"/><text x="319.2" y="563.6">26 Oct 18:00</text><rect x="384" y="552" width="1" height="3" fill="#000"/><text x="383.2" y="563.6">31 Oct 10:00</text><rect x="448" y="552" width="1" height="3" fill="#000"/><text x="447.2" y="563.6">3 Nov 00:00</text><rect x="512" y="552" width="1" height="3" fill="#000"/><text x="511.2" y="563.6">7 Nov 19:00</text><rect x="576" y="552" width="1" height="3" fill="#000"/><text x="575.2" y="563.6">12 Nov 11:00</text><rect x="640" y="552" width="1" height="3" fill="#000"/><text x="639.2" y="563.6">15 Nov 00:00</text><rect x="704" y="552" width="1" height="3" fill="#000"/><text x="703.2" y="563.6">19 Nov 19:00</text><rect x="768" y="552" width="1" height="3" fill="#000"/><text x="767.2" y="563.6">22 Nov 11:00</text><rect x="832" y="552" width="1" height="3" fill="#000"/><text x="831.2" y="563.6">27 Nov 00:00</text><rect x="896" y="552" width="1" height="3" fill="#000"/><text x="895.2" y="563.6">29 Nov 19:00</text><rect x="960" y="552" width="1" height="3" fill="#000"/><text x="959.2" y="563.6">4 Dec 11:00</text><rect x="1024" y="552" width="1" height="3" fill="#000"/><text x="1023.2" y="563.6">7 Dec 00:00</text></g>
<text x="4.3" y="448" font-size="9.3" fill="#000" textLength="153.5" lengthAdjust="spacingAndGlyphs">MACD(12,26,9) -0.002681 -0.002120</text>
<text x="15.5" y="42" font-size="9.5" fill="#000" textLength="56.5" lengthAdjust="spacingAndGlyphs">AUDUSD,H4</text><text x="76.5" y="42" font-size="9.5" fill="#000" textLength="142.5" lengthAdjust="spacingAndGlyphs">0.72276 0.72280 0.72244 0.72249</text>
<path d="M3,41 L6.5,37 L10,41 Z" fill="#000"/>
</svg>
<div class="abs" style="left:3px;top:74px;width:109px;height:40px;box-sizing:border-box;border:1px solid #0a00b0;background:linear-gradient(#3a36e6,#0c04b4 85%,#0800a8)"></div>
<div class="abs" style="left:114px;top:74px;width:108px;height:40px;box-sizing:border-box;border:1px solid #0a00b0;background:linear-gradient(#3a36e6,#0c04b4 85%,#0800a8)"></div>
<div class="abs" style="left:3px;top:50px;width:52px;height:25px;box-sizing:border-box;border:1px solid #1010c0;border-bottom:none;background:linear-gradient(#5c5cf8,#4040ea)"></div>
<div class="abs" style="left:170px;top:50px;width:52px;height:25px;box-sizing:border-box;border:1px solid #1010c0;border-bottom:none;background:linear-gradient(#5c5cf8,#4040ea)"></div>
<div class="abs" style="left:7px;top:73px;width:45px;height:1px;background:#2020a8"></div>
<div class="abs" style="left:7px;top:74px;width:45px;height:1px;background:#7070ff"></div>
<div class="abs" style="left:174px;top:73px;width:45px;height:1px;background:#2020a8"></div>
<div class="abs" style="left:174px;top:74px;width:45px;height:1px;background:#7070ff"></div>
<div class="abs" style="left:57px;top:50px;width:111px;height:22px;box-sizing:border-box;border:1px solid #a8a8a8;background:#fff"></div>
<div class="abs" style="left:58px;top:51px;width:20px;height:20px;box-sizing:border-box;border-right:1px solid #a8a8a8;"></div>
<div class="abs" style="left:59px;top:52px;width:18px;height:18px;background:linear-gradient(#eeeeee 0,#e6e6e6 45%,#d6d6d6 50%,#d4d4d4)"></div>
<div class="abs" style="left:146px;top:51px;width:21px;height:20px;box-sizing:border-box;border-left:1px solid #a8a8a8;"></div>
<div class="abs" style="left:148px;top:52px;width:18px;height:18px;background:linear-gradient(#eeeeee 0,#e6e6e6 45%,#d6d6d6 50%,#d4d4d4)"></div>
<svg class="abs" style="left:0;top:0" width="230" height="120">
<path d="M64.5,59 L70.5,59 L67.5,62 Z" fill="#4a64cc"/>
<path d="M153.5,62 L159.5,62 L156.5,59 Z" fill="#4a64cc"/>
<g font-family='"Liberation Sans", sans-serif'>
<text x="142.8" y="65" font-size="12" fill="#222" text-anchor="end">3.00</text>
<text x="14.6" y="65.5" font-size="11.5" fill="#f2f2ff">SELL</text>
<text x="183.4" y="65.5" font-size="11.5" fill="#f2f2ff">BUY</text>
<text x="22.5" y="105" font-size="12" font-weight="bold" fill="#fff" textLength="25" lengthAdjust="spacingAndGlyphs">0.72</text>
<text x="50" y="105.2" font-size="35.5" fill="#fff" stroke="#2a24d4" stroke-width="0.45" textLength="35" lengthAdjust="spacingAndGlyphs">24</text>
<text x="89.5" y="89.2" font-size="12.5" font-weight="bold" fill="#fff" textLength="7.5" lengthAdjust="spacingAndGlyphs">9</text>
<text x="132.8" y="105" font-size="12" font-weight="bold" fill="#fff" textLength="25" lengthAdjust="spacingAndGlyphs">0.72</text>
<text x="161.2" y="105.2" font-size="35.5" fill="#fff" stroke="#2a24d4" stroke-width="0.45" textLength="35" lengthAdjust="spacingAndGlyphs">26</text>
<text x="200.5" y="89.2" font-size="12.5" font-weight="bold" fill="#fff" textLength="7.5" lengthAdjust="spacingAndGlyphs">8</text>
</g>
</svg>

<div class="abs" style="left:0;top:572px;width:1345px;height:1px;background:#e3e3e3"></div>
<div class="abs" style="left:0;top:573px;width:1345px;height:1px;background:#f4f4f4"></div>
<div class="abs" style="left:0;top:574px;width:1345px;height:1px;background:#000"></div>
<div class="abs" style="left:0;top:575px;width:1345px;height:19px;background:#f0f0f0"></div>
<div class="abs" style="left:0;top:594px;width:1345px;height:2px;background:#fafafa"></div>
<div class="abs" style="left:273px;top:574px;width:92px;height:19px;box-sizing:border-box;border:1px solid #000;border-top:none;background:#fff"></div>
<div class="abs" style="left:273px;top:574px;width:1px;height:1px;background:#000"></div>
<svg class="abs" style="left:0;top:570px" width="1345" height="26">
<g font-family='"Liberation Sans", sans-serif' font-size="12" fill="#707070">
<text x="13.5" y="19">EURUSD,H4</text>
<text x="103.5" y="19">USDCHF,H4</text>
<text x="192" y="19">USDCAD,H4</text>
<text x="284" y="19" fill="#000">AUDUSD,H4</text>
<text x="375" y="19">USDCNH,H4</text>
<text x="467" y="19">USDJPY,H1</text>
</g>
<g fill="#555" shape-rendering="crispEdges">
<rect x="93" y="7" width="1" height="14"/>
<rect x="181" y="7" width="1" height="14"/>
<rect x="456" y="7" width="1" height="14"/>
<rect x="543" y="7" width="1" height="14"/>
</g>
<path d="M1315,13 L1320,9 L1320,17 Z" fill="#9a9a9a"/>
<path d="M1339,13 L1334,9 L1334,17 Z" fill="#9a9a9a"/>
</svg>

</body></html>
